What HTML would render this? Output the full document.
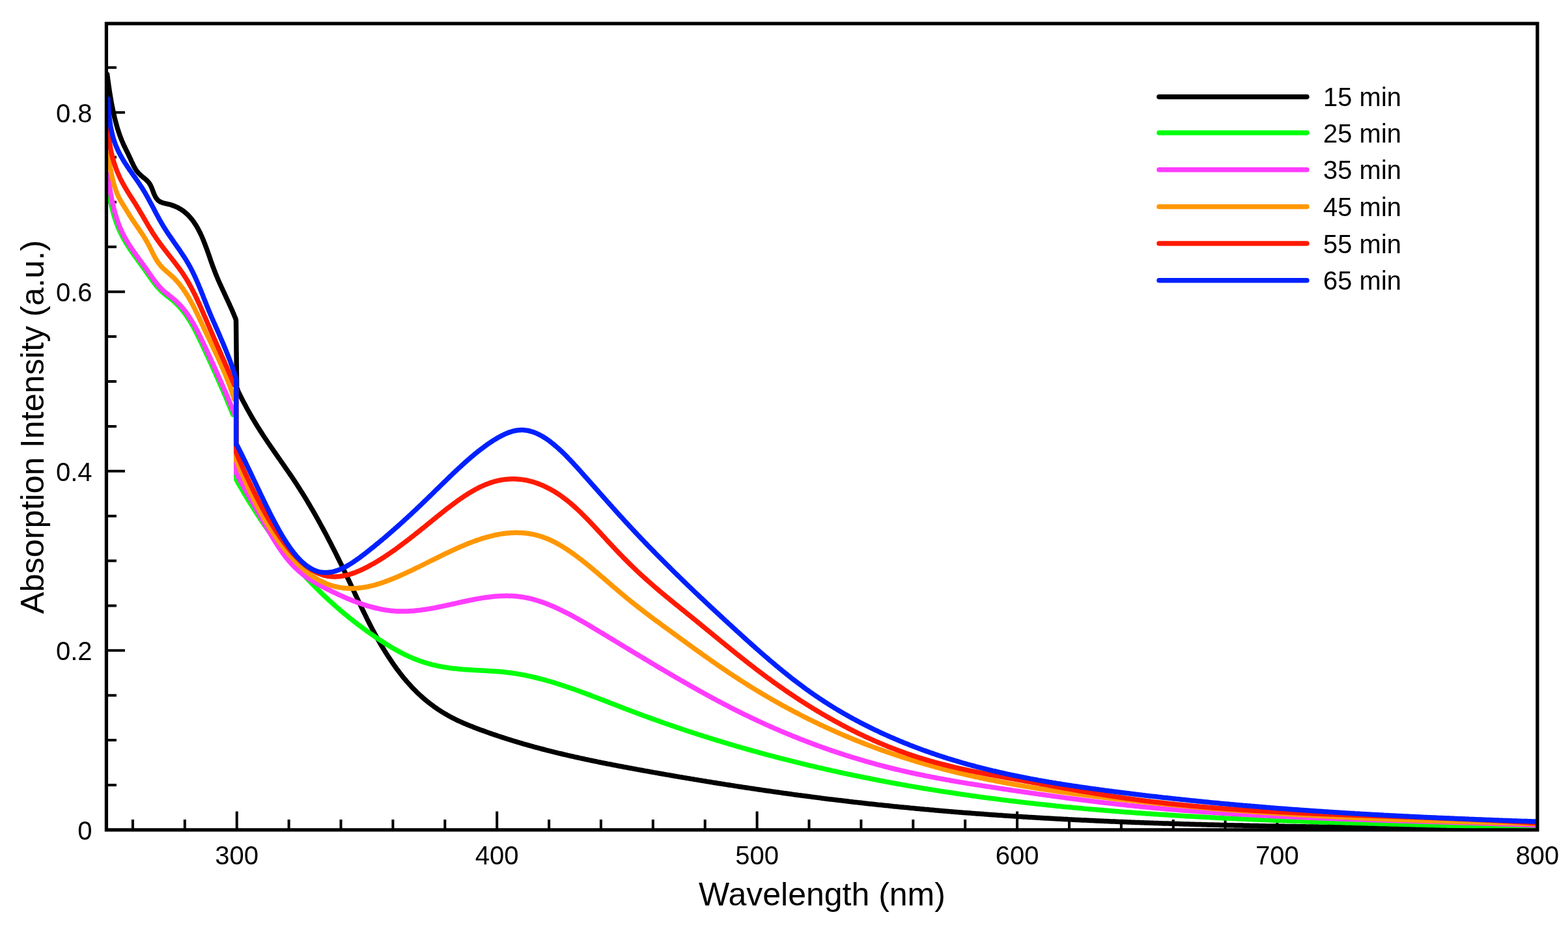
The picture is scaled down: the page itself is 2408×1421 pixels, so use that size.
<!DOCTYPE html>
<html><head><meta charset="utf-8"><title>Absorption spectra</title>
<style>html,body{margin:0;padding:0;background:#fff;}svg{display:block;}</style>
</head><body>
<svg width="2408" height="1421" viewBox="0 0 2408 1421">
<rect width="2408" height="1421" fill="#fff"/>
<defs><clipPath id="pc"><rect x="163.4" y="36.2" width="2197.6" height="1238.7"/></clipPath></defs>
<path d="M203.9 1274.9V1258.9 M283.8 1274.9V1258.9 M363.7 1274.9V1246.4 M443.6 1274.9V1258.9 M523.5 1274.9V1258.9 M603.4 1274.9V1258.9 M683.3 1274.9V1258.9 M763.2 1274.9V1246.4 M843.1 1274.9V1258.9 M922.9 1274.9V1258.9 M1002.8 1274.9V1258.9 M1082.7 1274.9V1258.9 M1162.6 1274.9V1246.4 M1242.5 1274.9V1258.9 M1322.4 1274.9V1258.9 M1402.3 1274.9V1258.9 M1482.2 1274.9V1258.9 M1562.1 1274.9V1246.4 M1642.0 1274.9V1258.9 M1721.9 1274.9V1258.9 M1801.8 1274.9V1258.9 M1881.6 1274.9V1258.9 M1961.5 1274.9V1246.4 M2041.4 1274.9V1258.9 M2121.3 1274.9V1258.9 M2201.2 1274.9V1258.9 M2281.1 1274.9V1258.9 M163.4 1206.0H178.9 M163.4 1137.1H178.9 M163.4 1068.2H178.9 M163.4 999.3H191.9 M163.4 930.4H178.9 M163.4 861.5H178.9 M163.4 792.7H178.9 M163.4 723.8H191.9 M163.4 654.9H178.9 M163.4 586.0H178.9 M163.4 517.1H178.9 M163.4 448.2H191.9 M163.4 379.3H178.9 M163.4 310.5H178.9 M163.4 241.6H178.9 M163.4 172.7H191.9 M163.4 103.8H178.9" stroke="#000" stroke-width="4" fill="none"/>
<g clip-path="url(#pc)" fill="none" stroke-width="7.5" stroke-linejoin="round" stroke-linecap="round">
<path d="M164.6 114.3L164.8 116.0 165.0 117.7 165.3 119.4 165.5 121.0 165.7 122.7 166.0 124.4 166.2 126.1 166.4 127.8 166.7 129.4 166.9 131.1 167.1 132.8 167.4 134.4 167.6 136.1 167.9 137.8 168.1 139.4 168.4 141.1 168.6 142.7 168.9 144.4 169.2 146.0 169.4 147.7 169.7 149.3 170.0 150.9 170.3 152.6 170.5 154.2 170.8 155.8 171.1 157.4 171.4 159.1 171.7 160.7 172.0 162.3 172.3 163.9 172.7 165.5 173.0 167.1 173.3 168.6 173.6 170.2 174.0 171.8 174.3 173.4 174.7 174.9 175.0 176.5 175.4 178.0 175.7 179.6 176.1 181.1 176.5 182.7 176.9 184.2 177.3 185.7 177.6 187.2 178.1 188.7 178.5 190.2 178.9 191.7 179.3 193.2 179.7 194.7 180.2 196.2 180.6 197.6 181.1 199.1 181.5 200.5 182.0 202.0 182.5 203.4 183.0 204.9 183.4 206.3 183.9 207.7 184.5 209.1 185.0 210.5 185.5 211.9 186.0 213.2 186.6 214.6 187.1 216.0 187.7 217.3 188.3 218.7 188.8 220.0 189.4 221.3 190.0 222.6 190.6 223.9 191.2 225.2 191.9 226.5 192.5 227.8 193.1 229.1 193.7 230.4 194.4 231.7 195.0 232.9 195.6 234.2 196.3 235.5 196.9 236.8 197.5 238.1 198.1 239.4 198.7 240.7 199.4 242.0 200.0 243.3 200.6 244.6 201.2 245.9 201.7 247.2 202.3 248.5 202.9 249.8 203.6 251.1 204.2 252.4 204.8 253.7 205.4 255.0 206.1 256.2 206.8 257.5 207.5 258.7 208.2 259.9 208.9 261.0 209.7 262.2 210.5 263.3 211.4 264.3 212.2 265.4 213.1 266.4 214.1 267.4 215.1 268.3 216.1 269.2 217.1 270.1 218.1 270.9 219.2 271.8 220.2 272.7 221.3 273.5 222.3 274.4 223.4 275.3 224.4 276.2 225.4 277.1 226.3 278.0 227.2 279.0 228.1 280.1 229.0 281.1 229.7 282.3 230.5 283.4 231.2 284.7 231.8 286.0 232.4 287.3 233.0 288.6 233.5 290.0 234.0 291.3 234.6 292.7 235.1 294.1 235.6 295.5 236.2 296.9 236.7 298.2 237.3 299.5 237.9 300.8 238.6 302.1 239.3 303.3 240.0 304.5 240.8 305.6 241.7 306.6 242.6 307.6 243.7 308.5 244.8 309.3 246.0 310.0 247.3 310.6 248.6 311.1 250.1 311.6 251.6 312.0 253.1 312.4 254.6 312.8 256.2 313.1 257.8 313.5 259.3 313.8 260.8 314.2 262.3 314.6 263.8 315.1 265.2 315.6 266.6 316.1 268.0 316.6 269.4 317.2 270.7 317.8 272.0 318.4 273.3 319.0 274.5 319.7 275.7 320.4 276.9 321.1 278.1 321.8 279.3 322.6 280.4 323.3 281.5 324.1 282.6 325.0 283.6 325.8 284.7 326.7 285.7 327.6 286.7 328.5 287.7 329.4 288.7 330.3 289.6 331.3 290.5 332.3 291.5 333.3 292.4 334.3 293.2 335.3 294.1 336.4 294.9 337.4 295.8 338.5 296.6 339.6 297.4 340.7 298.2 341.8 298.9 343.0 299.7 344.1 300.5 345.3 301.2 346.5 301.9 347.7 302.6 348.9 303.3 350.1 304.0 351.3 304.7 352.6 305.3 353.8 306.0 355.1 306.6 356.3 307.2 357.6 307.9 358.9 308.5 360.2 309.1 361.5 309.7 362.8 310.3 364.2 310.8 365.5 311.4 366.8 312.0 368.2 312.5 369.5 313.1 370.9 313.6 372.3 314.1 373.6 314.7 375.0 315.2 376.4 315.7 377.8 316.2 379.2 316.8 380.6 317.3 382.0 317.8 383.4 318.3 384.8 318.8 386.2 319.3 387.6 319.8 389.0 320.3 390.4 320.8 391.9 321.3 393.3 321.8 394.7 322.3 396.1 322.7 397.5 323.2 398.9 323.7 400.4 324.2 401.8 324.7 403.2 325.2 404.6 325.7 406.0 326.2 407.4 326.7 408.8 327.2 410.2 327.8 411.6 328.3 413.0 328.8 414.4 329.3 415.8 329.9 417.2 330.4 418.5 330.9 419.9 331.5 421.3 332.0 422.6 332.6 424.0 333.2 425.3 333.7 426.7 334.3 428.0 334.9 429.4 335.4 430.7 336.0 432.0 336.6 433.3 337.2 434.7 337.8 436.0 338.4 437.3 339.0 438.6 339.6 439.9 340.2 441.3 340.8 442.6 341.4 443.9 342.0 445.2 342.6 446.5 343.2 447.8 343.8 449.1 344.4 450.4 345.0 451.7 345.6 453.0 346.2 454.3 346.8 455.6 347.4 456.9 348.0 458.2 348.6 459.5 349.2 460.8 349.8 462.1 350.4 463.4 351.1 464.8 351.7 466.1 352.3 467.4 352.8 468.7 353.4 470.0 354.0 471.3 354.6 472.6 355.2 474.0 355.8 475.3 356.4 476.6 357.0 477.9 357.5 479.3 358.1 480.6 358.7 482.0 359.2 483.3 359.8 484.7 360.4 486.0 360.9 487.4 361.5 488.7 362.5 492.0 363.6 595.0 366.0 601.6 368.0 605.7 370.0 609.7 372.0 613.7 374.0 617.5 376.0 621.3 378.0 625.1 380.0 628.7 382.0 632.3 384.0 635.9 386.0 639.3 388.0 642.8 390.0 646.1 392.0 649.5 394.0 652.7 396.0 656.0 398.0 659.1 400.0 662.3 402.0 665.4 404.0 668.5 406.0 671.5 408.0 674.5 410.0 677.5 412.0 680.5 414.0 683.4 416.0 686.3 418.0 689.2 420.0 692.1 422.0 695.0 424.0 697.9 426.0 700.7 428.0 703.6 430.0 706.4 432.0 709.3 434.0 712.2 436.0 715.0 438.0 717.9 440.0 720.8 442.0 723.7 444.0 726.6 446.0 729.5 448.0 732.4 450.0 735.4 452.0 738.4 454.0 741.4 456.0 744.5 458.0 747.6 460.0 750.7 462.0 753.9 464.0 757.1 466.0 760.3 468.0 763.5 470.0 766.8 472.0 770.1 474.0 773.5 476.0 776.9 478.0 780.3 480.0 783.7 482.0 787.2 484.0 790.7 486.0 794.2 488.0 797.8 490.0 801.4 492.0 805.0 494.0 808.7 496.0 812.4 498.0 816.1 500.0 819.8 502.0 823.6 504.0 827.4 506.0 831.3 508.0 835.1 510.0 839.1 512.0 843.0 514.0 846.9 516.0 850.9 518.0 855.0 520.0 859.0 522.0 863.1 524.0 867.2 526.0 871.3 528.0 875.5 530.0 879.7 532.0 883.9 534.0 888.2 536.0 892.4 538.0 896.7 540.0 901.0 542.0 905.2 544.0 909.5 546.0 913.8 548.0 918.0 550.0 922.3 552.0 926.5 554.0 930.7 556.0 934.9 558.0 939.0 560.0 943.1 562.0 947.2 564.0 951.3 566.0 955.2 568.0 959.2 570.0 963.1 572.0 966.9 574.0 970.6 576.0 974.4 578.0 978.0 580.0 981.6 582.0 985.1 584.0 988.6 586.0 992.0 588.0 995.3 590.0 998.6 592.0 1001.9 594.0 1005.0 596.0 1008.2 598.0 1011.2 600.0 1014.2 602.0 1017.2 604.0 1020.1 606.0 1022.9 608.0 1025.7 610.0 1028.4 612.0 1031.1 614.0 1033.7 616.0 1036.3 618.0 1038.8 620.0 1041.3 622.0 1043.7 624.0 1046.1 626.0 1048.4 628.0 1050.6 630.0 1052.8 632.0 1055.0 634.0 1057.1 636.0 1059.2 638.0 1061.2 640.0 1063.2 642.0 1065.1 644.0 1067.0 646.0 1068.8 648.0 1070.6 650.0 1072.4 652.0 1074.1 654.0 1075.8 656.0 1077.4 658.0 1079.0 660.0 1080.6 662.0 1082.1 664.0 1083.6 666.0 1085.1 668.0 1086.5 670.0 1087.9 672.0 1089.3 674.0 1090.6 676.0 1091.9 678.0 1093.2 680.0 1094.4 682.0 1095.6 684.0 1096.8 686.0 1097.9 688.0 1099.1 690.0 1100.2 692.0 1101.3 694.0 1102.3 696.0 1103.3 698.0 1104.4 700.0 1105.3 702.0 1106.3 704.0 1107.3 706.0 1108.2 708.0 1109.1 710.0 1110.0 712.0 1110.9 714.0 1111.7 716.0 1112.6 718.0 1113.4 720.0 1114.2 722.0 1115.1 724.0 1115.8 726.0 1116.6 728.0 1117.4 730.0 1118.2 732.0 1118.9 734.0 1119.7 736.0 1120.4 738.0 1121.2 740.0 1121.9 742.0 1122.6 744.0 1123.3 746.0 1124.1 748.0 1124.8 750.0 1125.5 752.0 1126.2 754.0 1126.9 756.0 1127.6 758.0 1128.3 760.0 1128.9 762.0 1129.6 764.0 1130.3 766.0 1131.0 768.0 1131.6 770.0 1132.3 772.0 1132.9 774.0 1133.6 776.0 1134.2 778.0 1134.9 780.0 1135.5 782.0 1136.1 784.0 1136.7 786.0 1137.4 788.0 1138.0 790.0 1138.6 792.0 1139.2 794.0 1139.8 796.0 1140.4 798.0 1141.0 800.0 1141.6 802.0 1142.2 804.0 1142.8 806.0 1143.3 808.0 1143.9 810.0 1144.5 812.0 1145.0 814.0 1145.6 816.0 1146.2 818.0 1146.7 820.0 1147.3 822.0 1147.8 824.0 1148.4 826.0 1148.9 828.0 1149.4 830.0 1150.0 832.0 1150.5 834.0 1151.0 836.0 1151.5 838.0 1152.1 840.0 1152.6 842.0 1153.1 844.0 1153.6 846.0 1154.1 848.0 1154.6 850.0 1155.1 852.0 1155.6 854.0 1156.1 856.0 1156.6 858.0 1157.1 860.0 1157.5 862.0 1158.0 864.0 1158.5 866.0 1159.0 868.0 1159.4 870.0 1159.9 872.0 1160.4 874.0 1160.8 876.0 1161.3 878.0 1161.7 880.0 1162.2 882.0 1162.7 884.0 1163.1 886.0 1163.5 888.0 1164.0 890.0 1164.4 892.0 1164.9 894.0 1165.3 896.0 1165.7 898.0 1166.2 900.0 1166.6 902.0 1167.0 904.0 1167.4 906.0 1167.9 908.0 1168.3 910.0 1168.7 912.0 1169.1 914.0 1169.5 916.0 1169.9 918.0 1170.4 920.0 1170.8 922.0 1171.2 924.0 1171.6 926.0 1172.0 928.0 1172.4 930.0 1172.8 932.0 1173.2 934.0 1173.6 936.0 1173.9 938.0 1174.3 940.0 1174.7 942.0 1175.1 944.0 1175.5 946.0 1175.9 948.0 1176.3 950.0 1176.7 952.0 1177.0 954.0 1177.4 956.0 1177.8 958.0 1178.2 960.0 1178.5 962.0 1178.9 964.0 1179.3 966.0 1179.7 968.0 1180.0 970.0 1180.4 972.0 1180.8 974.0 1181.1 976.0 1181.5 978.0 1181.9 980.0 1182.2 982.0 1182.6 984.0 1183.0 986.0 1183.3 988.0 1183.7 990.0 1184.1 992.0 1184.4 994.0 1184.8 996.0 1185.1 998.0 1185.5 1000.0 1185.9 1002.0 1186.2 1004.0 1186.6 1006.0 1186.9 1008.0 1187.3 1010.0 1187.6 1012.0 1188.0 1014.0 1188.3 1016.0 1188.7 1018.0 1189.0 1020.0 1189.4 1022.0 1189.7 1024.0 1190.1 1026.0 1190.4 1028.0 1190.8 1030.0 1191.1 1032.0 1191.5 1034.0 1191.8 1036.0 1192.2 1038.0 1192.5 1040.0 1192.9 1042.0 1193.2 1044.0 1193.6 1046.0 1193.9 1048.0 1194.2 1050.0 1194.6 1052.0 1194.9 1054.0 1195.3 1056.0 1195.6 1058.0 1195.9 1060.0 1196.3 1062.0 1196.6 1064.0 1196.9 1066.0 1197.3 1068.0 1197.6 1070.0 1197.9 1072.0 1198.3 1074.0 1198.6 1076.0 1198.9 1078.0 1199.3 1080.0 1199.6 1082.0 1199.9 1084.0 1200.2 1086.0 1200.6 1088.0 1200.9 1090.0 1201.2 1092.0 1201.5 1094.0 1201.9 1096.0 1202.2 1098.0 1202.5 1100.0 1202.8 1102.0 1203.2 1104.0 1203.5 1106.0 1203.8 1108.0 1204.1 1110.0 1204.4 1112.0 1204.8 1114.0 1205.1 1116.0 1205.4 1118.0 1205.7 1120.0 1206.0 1122.0 1206.3 1124.0 1206.6 1126.0 1206.9 1128.0 1207.3 1130.0 1207.6 1132.0 1207.9 1134.0 1208.2 1136.0 1208.5 1138.0 1208.8 1140.0 1209.1 1142.0 1209.4 1144.0 1209.7 1146.0 1210.0 1148.0 1210.3 1150.0 1210.6 1152.0 1210.9 1154.0 1211.2 1156.0 1211.5 1158.0 1211.8 1160.0 1212.1 1162.0 1212.4 1164.0 1212.7 1166.0 1213.0 1168.0 1213.3 1170.0 1213.6 1172.0 1213.9 1174.0 1214.2 1176.0 1214.5 1178.0 1214.8 1180.0 1215.0 1182.0 1215.3 1184.0 1215.6 1186.0 1215.9 1188.0 1216.2 1190.0 1216.5 1192.0 1216.8 1194.0 1217.0 1196.0 1217.3 1198.0 1217.6 1200.0 1217.9 1202.0 1218.2 1204.0 1218.5 1206.0 1218.7 1208.0 1219.0 1210.0 1219.3 1212.0 1219.6 1214.0 1219.8 1216.0 1220.1 1218.0 1220.4 1220.0 1220.7 1222.0 1220.9 1224.0 1221.2 1226.0 1221.5 1228.0 1221.7 1230.0 1222.0 1232.0 1222.3 1234.0 1222.5 1236.0 1222.8 1238.0 1223.1 1240.0 1223.3 1242.0 1223.6 1244.0 1223.8 1246.0 1224.1 1248.0 1224.4 1250.0 1224.6 1252.0 1224.9 1254.0 1225.1 1256.0 1225.4 1258.0 1225.6 1260.0 1225.9 1262.0 1226.2 1264.0 1226.4 1266.0 1226.7 1268.0 1226.9 1270.0 1227.2 1272.0 1227.4 1274.0 1227.7 1276.0 1227.9 1278.0 1228.1 1280.0 1228.4 1282.0 1228.6 1284.0 1228.9 1286.0 1229.1 1288.0 1229.4 1290.0 1229.6 1292.0 1229.8 1294.0 1230.1 1296.0 1230.3 1298.0 1230.6 1300.0 1230.8 1302.0 1231.0 1304.0 1231.3 1306.0 1231.5 1308.0 1231.7 1310.0 1232.0 1312.0 1232.2 1314.0 1232.4 1316.0 1232.6 1318.0 1232.9 1320.0 1233.1 1322.0 1233.3 1324.0 1233.5 1326.0 1233.8 1328.0 1234.0 1330.0 1234.2 1332.0 1234.4 1334.0 1234.7 1336.0 1234.9 1338.0 1235.1 1340.0 1235.3 1342.0 1235.5 1344.0 1235.7 1346.0 1235.9 1348.0 1236.2 1350.0 1236.4 1352.0 1236.6 1354.0 1236.8 1356.0 1237.0 1358.0 1237.2 1360.0 1237.4 1362.0 1237.6 1364.0 1237.8 1366.0 1238.0 1368.0 1238.2 1370.0 1238.4 1372.0 1238.7 1374.0 1238.9 1376.0 1239.1 1378.0 1239.3 1380.0 1239.5 1382.0 1239.7 1384.0 1239.9 1386.0 1240.0 1388.0 1240.2 1390.0 1240.4 1392.0 1240.6 1394.0 1240.8 1396.0 1241.0 1398.0 1241.2 1400.0 1241.4 1402.0 1241.6 1404.0 1241.8 1406.0 1242.0 1408.0 1242.2 1410.0 1242.3 1412.0 1242.5 1414.0 1242.7 1416.0 1242.9 1418.0 1243.1 1420.0 1243.3 1422.0 1243.4 1424.0 1243.6 1426.0 1243.8 1428.0 1244.0 1430.0 1244.2 1432.0 1244.3 1434.0 1244.5 1436.0 1244.7 1438.0 1244.9 1440.0 1245.0 1442.0 1245.2 1444.0 1245.4 1446.0 1245.6 1448.0 1245.7 1450.0 1245.9 1452.0 1246.1 1454.0 1246.2 1456.0 1246.4 1458.0 1246.6 1460.0 1246.7 1462.0 1246.9 1464.0 1247.1 1466.0 1247.2 1468.0 1247.4 1470.0 1247.6 1472.0 1247.7 1474.0 1247.9 1476.0 1248.0 1478.0 1248.2 1480.0 1248.4 1482.0 1248.5 1484.0 1248.7 1486.0 1248.8 1488.0 1249.0 1490.0 1249.1 1492.0 1249.3 1494.0 1249.4 1496.0 1249.6 1498.0 1249.7 1500.0 1249.9 1502.0 1250.0 1504.0 1250.2 1506.0 1250.3 1508.0 1250.5 1510.0 1250.6 1512.0 1250.8 1514.0 1250.9 1516.0 1251.1 1518.0 1251.2 1520.0 1251.4 1522.0 1251.5 1524.0 1251.7 1526.0 1251.8 1528.0 1251.9 1530.0 1252.1 1532.0 1252.2 1534.0 1252.4 1536.0 1252.5 1538.0 1252.6 1540.0 1252.8 1542.0 1252.9 1544.0 1253.0 1546.0 1253.2 1548.0 1253.3 1550.0 1253.4 1552.0 1253.6 1554.0 1253.7 1556.0 1253.8 1558.0 1254.0 1560.0 1254.1 1562.0 1254.2 1564.0 1254.4 1566.0 1254.5 1568.0 1254.6 1570.0 1254.7 1572.0 1254.9 1574.0 1255.0 1576.0 1255.1 1578.0 1255.2 1580.0 1255.4 1582.0 1255.5 1584.0 1255.6 1586.0 1255.7 1588.0 1255.8 1590.0 1256.0 1592.0 1256.1 1594.0 1256.2 1596.0 1256.3 1598.0 1256.4 1600.0 1256.5 1602.0 1256.7 1604.0 1256.8 1606.0 1256.9 1608.0 1257.0 1610.0 1257.1 1612.0 1257.2 1614.0 1257.3 1616.0 1257.5 1618.0 1257.6 1620.0 1257.7 1622.0 1257.8 1624.0 1257.9 1626.0 1258.0 1628.0 1258.1 1630.0 1258.2 1632.0 1258.3 1634.0 1258.4 1636.0 1258.5 1638.0 1258.6 1640.0 1258.7 1642.0 1258.9 1644.0 1259.0 1646.0 1259.1 1648.0 1259.2 1650.0 1259.3 1652.0 1259.4 1654.0 1259.5 1656.0 1259.6 1658.0 1259.7 1660.0 1259.8 1662.0 1259.9 1664.0 1260.0 1666.0 1260.0 1668.0 1260.1 1670.0 1260.2 1672.0 1260.3 1674.0 1260.4 1676.0 1260.5 1678.0 1260.6 1680.0 1260.7 1682.0 1260.8 1684.0 1260.9 1686.0 1261.0 1688.0 1261.1 1690.0 1261.2 1692.0 1261.3 1694.0 1261.3 1696.0 1261.4 1698.0 1261.5 1700.0 1261.6 1702.0 1261.7 1704.0 1261.8 1706.0 1261.9 1708.0 1261.9 1710.0 1262.0 1712.0 1262.1 1714.0 1262.2 1716.0 1262.3 1718.0 1262.4 1720.0 1262.4 1722.0 1262.5 1724.0 1262.6 1726.0 1262.7 1728.0 1262.8 1730.0 1262.8 1732.0 1262.9 1734.0 1263.0 1736.0 1263.1 1738.0 1263.2 1740.0 1263.2 1742.0 1263.3 1744.0 1263.4 1746.0 1263.5 1748.0 1263.5 1750.0 1263.6 1752.0 1263.7 1754.0 1263.8 1756.0 1263.8 1758.0 1263.9 1760.0 1264.0 1762.0 1264.1 1764.0 1264.1 1766.0 1264.2 1768.0 1264.3 1770.0 1264.3 1772.0 1264.4 1774.0 1264.5 1776.0 1264.5 1778.0 1264.6 1780.0 1264.7 1782.0 1264.7 1784.0 1264.8 1786.0 1264.9 1788.0 1264.9 1790.0 1265.0 1792.0 1265.1 1794.0 1265.1 1796.0 1265.2 1798.0 1265.3 1800.0 1265.3 1802.0 1265.4 1804.0 1265.4 1806.0 1265.5 1808.0 1265.6 1810.0 1265.6 1812.0 1265.7 1814.0 1265.8 1816.0 1265.8 1818.0 1265.9 1820.0 1265.9 1822.0 1266.0 1824.0 1266.0 1826.0 1266.1 1828.0 1266.2 1830.0 1266.2 1832.0 1266.3 1834.0 1266.3 1836.0 1266.4 1838.0 1266.4 1840.0 1266.5 1842.0 1266.6 1844.0 1266.6 1846.0 1266.7 1848.0 1266.7 1850.0 1266.8 1852.0 1266.8 1854.0 1266.9 1856.0 1266.9 1858.0 1267.0 1860.0 1267.0 1862.0 1267.1 1864.0 1267.1 1866.0 1267.2 1868.0 1267.2 1870.0 1267.3 1872.0 1267.3 1874.0 1267.4 1876.0 1267.4 1878.0 1267.5 1880.0 1267.5 1882.0 1267.6 1884.0 1267.6 1886.0 1267.7 1888.0 1267.7 1890.0 1267.7 1892.0 1267.8 1894.0 1267.8 1896.0 1267.9 1898.0 1267.9 1900.0 1268.0 1902.0 1268.0 1904.0 1268.1 1906.0 1268.1 1908.0 1268.1 1910.0 1268.2 1912.0 1268.2 1914.0 1268.3 1916.0 1268.3 1918.0 1268.3 1920.0 1268.4 1922.0 1268.4 1924.0 1268.5 1926.0 1268.5 1928.0 1268.5 1930.0 1268.6 1932.0 1268.6 1934.0 1268.7 1936.0 1268.7 1938.0 1268.7 1940.0 1268.8 1942.0 1268.8 1944.0 1268.9 1946.0 1268.9 1948.0 1268.9 1950.0 1269.0 1952.0 1269.0 1954.0 1269.0 1956.0 1269.1 1958.0 1269.1 1960.0 1269.1 1962.0 1269.2 1964.0 1269.2 1966.0 1269.2 1968.0 1269.3 1970.0 1269.3 1972.0 1269.3 1974.0 1269.4 1976.0 1269.4 1978.0 1269.4 1980.0 1269.5 1982.0 1269.5 1984.0 1269.5 1986.0 1269.6 1988.0 1269.6 1990.0 1269.6 1992.0 1269.7 1994.0 1269.7 1996.0 1269.7 1998.0 1269.8 2000.0 1269.8 2002.0 1269.8 2004.0 1269.8 2006.0 1269.9 2008.0 1269.9 2010.0 1269.9 2012.0 1270.0 2014.0 1270.0 2016.0 1270.0 2018.0 1270.0 2020.0 1270.1 2022.0 1270.1 2024.0 1270.1 2026.0 1270.2 2028.0 1270.2 2030.0 1270.2 2032.0 1270.2 2034.0 1270.3 2036.0 1270.3 2038.0 1270.3 2040.0 1270.3 2042.0 1270.4 2044.0 1270.4 2046.0 1270.4 2048.0 1270.4 2050.0 1270.5 2052.0 1270.5 2054.0 1270.5 2056.0 1270.5 2058.0 1270.6 2060.0 1270.6 2062.0 1270.6 2064.0 1270.6 2066.0 1270.7 2068.0 1270.7 2070.0 1270.7 2072.0 1270.7 2074.0 1270.8 2076.0 1270.8 2078.0 1270.8 2080.0 1270.8 2082.0 1270.9 2084.0 1270.9 2086.0 1270.9 2088.0 1270.9 2090.0 1270.9 2092.0 1271.0 2094.0 1271.0 2096.0 1271.0 2098.0 1271.0 2100.0 1271.0 2102.0 1271.1 2104.0 1271.1 2106.0 1271.1 2108.0 1271.1 2110.0 1271.2 2112.0 1271.2 2114.0 1271.2 2116.0 1271.2 2118.0 1271.2 2120.0 1271.3 2122.0 1271.3 2124.0 1271.3 2126.0 1271.3 2128.0 1271.3 2130.0 1271.4 2132.0 1271.4 2134.0 1271.4 2136.0 1271.4 2138.0 1271.4 2140.0 1271.5 2142.0 1271.5 2144.0 1271.5 2146.0 1271.5 2148.0 1271.5 2150.0 1271.5 2152.0 1271.6 2154.0 1271.6 2156.0 1271.6 2158.0 1271.6 2160.0 1271.6 2162.0 1271.7 2164.0 1271.7 2166.0 1271.7 2168.0 1271.7 2170.0 1271.7 2172.0 1271.7 2174.0 1271.8 2176.0 1271.8 2178.0 1271.8 2180.0 1271.8 2182.0 1271.8 2184.0 1271.9 2186.0 1271.9 2188.0 1271.9 2190.0 1271.9 2192.0 1271.9 2194.0 1271.9 2196.0 1272.0 2198.0 1272.0 2200.0 1272.0 2202.0 1272.0 2204.0 1272.0 2206.0 1272.1 2208.0 1272.1 2210.0 1272.1 2212.0 1272.1 2214.0 1272.1 2216.0 1272.1 2218.0 1272.2 2220.0 1272.2 2222.0 1272.2 2224.0 1272.2 2226.0 1272.2 2228.0 1272.2 2230.0 1272.3 2232.0 1272.3 2234.0 1272.3 2236.0 1272.3 2238.0 1272.3 2240.0 1272.4 2242.0 1272.4 2244.0 1272.4 2246.0 1272.4 2248.0 1272.4 2250.0 1272.4 2252.0 1272.5 2254.0 1272.5 2256.0 1272.5 2258.0 1272.5 2260.0 1272.5 2262.0 1272.5 2264.0 1272.6 2266.0 1272.6 2268.0 1272.6 2270.0 1272.6 2272.0 1272.6 2274.0 1272.7 2276.0 1272.7 2278.0 1272.7 2280.0 1272.7 2282.0 1272.7 2284.0 1272.8 2286.0 1272.8 2288.0 1272.8 2290.0 1272.8 2292.0 1272.8 2294.0 1272.8 2296.0 1272.9 2298.0 1272.9 2300.0 1272.9 2302.0 1272.9 2304.0 1272.9 2306.0 1273.0 2308.0 1273.0 2310.0 1273.0 2312.0 1273.0 2314.0 1273.0 2316.0 1273.1 2318.0 1273.1 2320.0 1273.1 2322.0 1273.1 2324.0 1273.1 2326.0 1273.2 2328.0 1273.2 2330.0 1273.2 2332.0 1273.2 2334.0 1273.2 2336.0 1273.3 2338.0 1273.3 2340.0 1273.3 2342.0 1273.3 2344.0 1273.4 2346.0 1273.4 2348.0 1273.4 2350.0 1273.4 2352.0 1273.4 2354.0 1273.5 2356.0 1273.5 2358.0 1273.5 2360.0 1273.5 2361.0 1273.5" stroke="#000000"/>
<path d="M163.2 268.2L163.4 270.3 163.7 272.4 163.9 274.5 164.2 276.6 164.5 278.7 164.7 280.8 165.0 282.8 165.3 284.9 165.6 287.0 165.9 289.0 166.3 291.1 166.6 293.1 166.9 295.1 167.3 297.2 167.6 299.2 168.0 301.2 168.4 303.2 168.8 305.2 169.2 307.1 169.6 309.1 170.0 311.1 170.4 313.0 170.8 314.9 171.3 316.9 171.7 318.8 172.2 320.7 172.7 322.6 173.2 324.5 173.7 326.3 174.2 328.2 174.7 330.0 175.3 331.9 175.9 333.7 176.4 335.5 177.0 337.3 177.6 339.1 178.2 340.9 178.8 342.6 179.5 344.4 180.1 346.1 180.8 347.8 181.5 349.5 182.2 351.2 182.9 352.9 183.7 354.5 184.4 356.2 185.2 357.8 186.0 359.4 186.8 361.0 187.6 362.6 188.4 364.2 189.2 365.7 190.1 367.2 190.9 368.8 191.8 370.3 192.7 371.8 193.6 373.3 194.5 374.8 195.4 376.2 196.3 377.7 197.3 379.1 198.2 380.6 199.1 382.0 200.1 383.4 201.0 384.8 202.0 386.2 203.0 387.6 204.0 389.0 204.9 390.4 205.9 391.8 206.9 393.2 207.9 394.5 208.9 395.9 209.9 397.3 210.9 398.7 211.9 400.0 212.8 401.4 213.8 402.7 214.8 404.1 215.8 405.5 216.8 406.8 217.8 408.2 218.8 409.5 219.8 410.9 220.7 412.3 221.7 413.6 222.7 415.0 223.6 416.4 224.6 417.8 225.6 419.2 226.5 420.5 227.5 421.9 228.5 423.3 229.4 424.7 230.4 426.1 231.4 427.5 232.4 428.9 233.4 430.3 234.4 431.6 235.4 433.0 236.4 434.4 237.5 435.7 238.5 437.0 239.6 438.4 240.7 439.7 241.8 441.0 243.0 442.2 244.1 443.5 245.3 444.7 246.5 446.0 247.7 447.2 249.0 448.3 250.3 449.5 251.6 450.6 252.9 451.7 254.2 452.8 255.5 453.8 256.8 454.9 258.2 455.9 259.5 456.9 260.8 458.0 262.1 459.0 263.4 460.0 264.7 461.1 265.9 462.1 267.2 463.2 268.4 464.3 269.6 465.4 270.7 466.5 271.9 467.6 273.0 468.8 274.2 469.9 275.3 471.1 276.4 472.3 277.4 473.6 278.5 474.8 279.5 476.1 280.6 477.4 281.6 478.6 282.6 479.9 283.6 481.3 284.6 482.6 285.5 484.0 286.5 485.3 287.4 486.7 288.3 488.1 289.2 489.5 290.1 490.9 291.0 492.3 291.9 493.8 292.8 495.2 293.7 496.7 294.5 498.2 295.4 499.6 296.2 501.1 297.0 502.6 297.8 504.1 298.7 505.7 299.5 507.2 300.3 508.7 301.1 510.3 301.9 511.8 302.6 513.4 303.4 514.9 304.2 516.5 305.0 518.1 305.7 519.6 306.5 521.2 307.3 522.8 308.0 524.4 308.8 526.0 309.5 527.6 310.3 529.2 311.0 530.8 311.8 532.4 312.5 534.0 313.3 535.6 314.0 537.2 314.8 538.8 315.5 540.4 316.3 542.0 317.0 543.6 317.7 545.2 318.5 546.8 319.2 548.4 320.0 550.0 320.7 551.6 321.5 553.3 322.2 554.9 322.9 556.5 323.7 558.1 324.4 559.7 325.1 561.3 325.9 562.9 326.6 564.6 327.3 566.2 328.1 567.8 328.8 569.4 329.5 571.0 330.3 572.7 331.0 574.3 331.7 575.9 332.4 577.5 333.2 579.2 333.9 580.8 334.6 582.4 335.3 584.0 336.0 585.7 336.8 587.3 337.5 588.9 338.2 590.6 338.9 592.2 339.6 593.9 340.3 595.5 341.0 597.1 341.7 598.8 342.5 600.4 343.2 602.1 343.9 603.7 344.6 605.4 345.3 607.0 346.0 608.6 346.7 610.3 347.4 611.9 348.1 613.6 348.8 615.3 349.5 616.9 350.1 618.6 350.8 620.2 351.5 621.9 352.2 623.6 352.9 625.2 353.6 626.9 354.3 628.6 354.9 630.2 355.6 631.9 356.3 633.6 357.0 635.2 357.6 636.9 362.7 634.0 362.7 728.0 362.8 736.8 364.8 740.4 366.8 743.9 368.8 747.3 370.8 750.7 372.8 754.1 374.8 757.5 376.8 760.8 378.8 764.2 380.8 767.4 382.8 770.7 384.8 773.9 386.8 777.1 388.8 780.3 390.8 783.4 392.8 786.5 394.8 789.6 396.8 792.6 398.8 795.7 400.8 798.7 402.8 801.6 404.8 804.6 406.8 807.5 408.8 810.4 410.8 813.2 412.8 816.1 414.8 818.9 416.8 821.7 418.8 824.4 420.8 827.1 422.8 829.9 424.8 832.5 426.8 835.2 428.8 837.8 430.8 840.4 432.8 843.0 434.8 845.6 436.8 848.1 438.8 850.6 440.8 853.1 442.8 855.6 444.8 858.0 446.8 860.5 448.8 862.9 450.8 865.2 452.8 867.6 454.8 869.9 456.8 872.2 458.8 874.5 460.8 876.8 462.8 879.0 464.8 881.3 466.8 883.5 468.8 885.7 470.8 887.8 472.8 890.0 474.8 892.1 476.8 894.2 478.8 896.3 480.8 898.3 482.8 900.4 484.8 902.4 486.8 904.4 488.8 906.4 490.8 908.4 492.8 910.3 494.8 912.3 496.8 914.2 498.8 916.1 500.8 918.0 502.8 919.8 504.8 921.7 506.8 923.5 508.8 925.3 510.8 927.1 512.8 928.9 514.8 930.7 516.8 932.5 518.8 934.2 520.8 935.9 522.8 937.6 524.8 939.3 526.8 941.0 528.8 942.7 530.8 944.3 532.8 945.9 534.8 947.6 536.8 949.2 538.8 950.8 540.8 952.3 542.8 953.9 544.8 955.5 546.8 957.0 548.8 958.5 550.8 960.1 552.8 961.6 554.8 963.1 556.8 964.5 558.8 966.0 560.8 967.5 562.8 968.9 564.8 970.4 566.8 971.8 568.8 973.2 570.8 974.6 572.8 976.0 574.8 977.4 576.8 978.8 578.8 980.1 580.8 981.5 582.8 982.8 584.8 984.1 586.8 985.4 588.8 986.7 590.8 988.0 592.8 989.3 594.8 990.5 596.8 991.7 598.8 993.0 600.8 994.2 602.8 995.3 604.8 996.5 606.8 997.6 608.8 998.8 610.8 999.9 612.8 1000.9 614.8 1002.0 616.8 1003.1 618.8 1004.1 620.8 1005.1 622.8 1006.1 624.8 1007.0 626.8 1007.9 628.8 1008.8 630.8 1009.7 632.8 1010.6 634.8 1011.4 636.8 1012.2 638.8 1013.0 640.8 1013.8 642.8 1014.5 644.8 1015.3 646.8 1016.0 648.8 1016.6 650.8 1017.3 652.8 1017.9 654.8 1018.5 656.8 1019.1 658.8 1019.7 660.8 1020.2 662.8 1020.8 664.8 1021.3 666.8 1021.7 668.8 1022.2 670.8 1022.7 672.8 1023.1 674.8 1023.5 676.8 1023.9 678.8 1024.3 680.8 1024.6 682.8 1025.0 684.8 1025.3 686.8 1025.6 688.8 1025.9 690.8 1026.2 692.8 1026.4 694.8 1026.7 696.8 1026.9 698.8 1027.1 700.8 1027.3 702.8 1027.5 704.8 1027.7 706.8 1027.9 708.8 1028.1 710.8 1028.3 712.8 1028.4 714.8 1028.6 716.8 1028.7 718.8 1028.8 720.8 1029.0 722.8 1029.1 724.8 1029.2 726.8 1029.3 728.8 1029.4 730.8 1029.6 732.8 1029.7 734.8 1029.8 736.8 1029.9 738.8 1030.0 740.8 1030.1 742.8 1030.2 744.8 1030.3 746.8 1030.4 748.8 1030.5 750.8 1030.7 752.8 1030.8 754.8 1030.9 756.8 1031.0 758.8 1031.2 760.8 1031.3 762.8 1031.5 764.8 1031.6 766.8 1031.8 768.8 1032.0 770.8 1032.1 772.8 1032.3 774.8 1032.5 776.8 1032.7 778.8 1033.0 780.8 1033.2 782.8 1033.4 784.8 1033.7 786.8 1034.0 788.8 1034.3 790.8 1034.6 792.8 1034.9 794.8 1035.2 796.8 1035.6 798.8 1035.9 800.8 1036.3 802.8 1036.6 804.8 1037.0 806.8 1037.4 808.8 1037.8 810.8 1038.3 812.8 1038.7 814.8 1039.1 816.8 1039.6 818.8 1040.0 820.8 1040.5 822.8 1041.0 824.8 1041.5 826.8 1042.0 828.8 1042.5 830.8 1043.0 832.8 1043.6 834.8 1044.1 836.8 1044.6 838.8 1045.2 840.8 1045.8 842.8 1046.3 844.8 1046.9 846.8 1047.5 848.8 1048.1 850.8 1048.7 852.8 1049.3 854.8 1050.0 856.8 1050.6 858.8 1051.2 860.8 1051.9 862.8 1052.5 864.8 1053.2 866.8 1053.8 868.8 1054.5 870.8 1055.2 872.8 1055.9 874.8 1056.5 876.8 1057.2 878.8 1057.9 880.8 1058.6 882.8 1059.3 884.8 1060.0 886.8 1060.8 888.8 1061.5 890.8 1062.2 892.8 1062.9 894.8 1063.7 896.8 1064.4 898.8 1065.1 900.8 1065.9 902.8 1066.6 904.8 1067.4 906.8 1068.1 908.8 1068.9 910.8 1069.7 912.8 1070.4 914.8 1071.2 916.8 1071.9 918.8 1072.7 920.8 1073.5 922.8 1074.2 924.8 1075.0 926.8 1075.8 928.8 1076.6 930.8 1077.3 932.8 1078.1 934.8 1078.9 936.8 1079.7 938.8 1080.4 940.8 1081.2 942.8 1082.0 944.8 1082.8 946.8 1083.6 948.8 1084.3 950.8 1085.1 952.8 1085.9 954.8 1086.6 956.8 1087.4 958.8 1088.2 960.8 1089.0 962.8 1089.7 964.8 1090.5 966.8 1091.2 968.8 1092.0 970.8 1092.8 972.8 1093.5 974.8 1094.3 976.8 1095.0 978.8 1095.8 980.8 1096.5 982.8 1097.3 984.8 1098.0 986.8 1098.7 988.8 1099.5 990.8 1100.2 992.8 1100.9 994.8 1101.7 996.8 1102.4 998.8 1103.1 1000.8 1103.9 1002.8 1104.6 1004.8 1105.3 1006.8 1106.0 1008.8 1106.7 1010.8 1107.4 1012.8 1108.1 1014.8 1108.9 1016.8 1109.6 1018.8 1110.3 1020.8 1111.0 1022.8 1111.7 1024.8 1112.4 1026.8 1113.0 1028.8 1113.7 1030.8 1114.4 1032.8 1115.1 1034.8 1115.8 1036.8 1116.5 1038.8 1117.2 1040.8 1117.8 1042.8 1118.5 1044.8 1119.2 1046.8 1119.9 1048.8 1120.5 1050.8 1121.2 1052.8 1121.9 1054.8 1122.5 1056.8 1123.2 1058.8 1123.9 1060.8 1124.5 1062.8 1125.2 1064.8 1125.8 1066.8 1126.5 1068.8 1127.1 1070.8 1127.8 1072.8 1128.4 1074.8 1129.0 1076.8 1129.7 1078.8 1130.3 1080.8 1131.0 1082.8 1131.6 1084.8 1132.2 1086.8 1132.9 1088.8 1133.5 1090.8 1134.1 1092.8 1134.7 1094.8 1135.4 1096.8 1136.0 1098.8 1136.6 1100.8 1137.2 1102.8 1137.8 1104.8 1138.4 1106.8 1139.0 1108.8 1139.6 1110.8 1140.2 1112.8 1140.8 1114.8 1141.4 1116.8 1142.0 1118.8 1142.6 1120.8 1143.2 1122.8 1143.8 1124.8 1144.4 1126.8 1145.0 1128.8 1145.6 1130.8 1146.2 1132.8 1146.8 1134.8 1147.3 1136.8 1147.9 1138.8 1148.5 1140.8 1149.1 1142.8 1149.6 1144.8 1150.2 1146.8 1150.8 1148.8 1151.3 1150.8 1151.9 1152.8 1152.5 1154.8 1153.0 1156.8 1153.6 1158.8 1154.1 1160.8 1154.7 1162.8 1155.2 1164.8 1155.8 1166.8 1156.3 1168.8 1156.9 1170.8 1157.4 1172.8 1158.0 1174.8 1158.5 1176.8 1159.1 1178.8 1159.6 1180.8 1160.1 1182.8 1160.7 1184.8 1161.2 1186.8 1161.7 1188.8 1162.2 1190.8 1162.8 1192.8 1163.3 1194.8 1163.8 1196.8 1164.3 1198.8 1164.9 1200.8 1165.4 1202.8 1165.9 1204.8 1166.4 1206.8 1166.9 1208.8 1167.4 1210.8 1167.9 1212.8 1168.4 1214.8 1168.9 1216.8 1169.4 1218.8 1169.9 1220.8 1170.4 1222.8 1170.9 1224.8 1171.4 1226.8 1171.9 1228.8 1172.4 1230.8 1172.9 1232.8 1173.4 1234.8 1173.9 1236.8 1174.3 1238.8 1174.8 1240.8 1175.3 1242.8 1175.8 1244.8 1176.3 1246.8 1176.7 1248.8 1177.2 1250.8 1177.7 1252.8 1178.1 1254.8 1178.6 1256.8 1179.1 1258.8 1179.5 1260.8 1180.0 1262.8 1180.4 1264.8 1180.9 1266.8 1181.4 1268.8 1181.8 1270.8 1182.3 1272.8 1182.7 1274.8 1183.2 1276.8 1183.6 1278.8 1184.1 1280.8 1184.5 1282.8 1184.9 1284.8 1185.4 1286.8 1185.8 1288.8 1186.3 1290.8 1186.7 1292.8 1187.1 1294.8 1187.6 1296.8 1188.0 1298.8 1188.4 1300.8 1188.8 1302.8 1189.3 1304.8 1189.7 1306.8 1190.1 1308.8 1190.5 1310.8 1191.0 1312.8 1191.4 1314.8 1191.8 1316.8 1192.2 1318.8 1192.6 1320.8 1193.0 1322.8 1193.4 1324.8 1193.8 1326.8 1194.2 1328.8 1194.6 1330.8 1195.0 1332.8 1195.4 1334.8 1195.8 1336.8 1196.2 1338.8 1196.6 1340.8 1197.0 1342.8 1197.4 1344.8 1197.8 1346.8 1198.2 1348.8 1198.6 1350.8 1199.0 1352.8 1199.4 1354.8 1199.7 1356.8 1200.1 1358.8 1200.5 1360.8 1200.9 1362.8 1201.2 1364.8 1201.6 1366.8 1202.0 1368.8 1202.4 1370.8 1202.7 1372.8 1203.1 1374.8 1203.5 1376.8 1203.8 1378.8 1204.2 1380.8 1204.6 1382.8 1204.9 1384.8 1205.3 1386.8 1205.6 1388.8 1206.0 1390.8 1206.3 1392.8 1206.7 1394.8 1207.1 1396.8 1207.4 1398.8 1207.8 1400.8 1208.1 1402.8 1208.4 1404.8 1208.8 1406.8 1209.1 1408.8 1209.5 1410.8 1209.8 1412.8 1210.1 1414.8 1210.5 1416.8 1210.8 1418.8 1211.2 1420.8 1211.5 1422.8 1211.8 1424.8 1212.1 1426.8 1212.5 1428.8 1212.8 1430.8 1213.1 1432.8 1213.4 1434.8 1213.8 1436.8 1214.1 1438.8 1214.4 1440.8 1214.7 1442.8 1215.0 1444.8 1215.4 1446.8 1215.7 1448.8 1216.0 1450.8 1216.3 1452.8 1216.6 1454.8 1216.9 1456.8 1217.2 1458.8 1217.5 1460.8 1217.8 1462.8 1218.1 1464.8 1218.4 1466.8 1218.7 1468.8 1219.0 1470.8 1219.3 1472.8 1219.6 1474.8 1219.9 1476.8 1220.2 1478.8 1220.5 1480.8 1220.8 1482.8 1221.1 1484.8 1221.4 1486.8 1221.6 1488.8 1221.9 1490.8 1222.2 1492.8 1222.5 1494.8 1222.8 1496.8 1223.1 1498.8 1223.3 1500.8 1223.6 1502.8 1223.9 1504.8 1224.2 1506.8 1224.4 1508.8 1224.7 1510.8 1225.0 1512.8 1225.2 1514.8 1225.5 1516.8 1225.8 1518.8 1226.0 1520.8 1226.3 1522.8 1226.6 1524.8 1226.8 1526.8 1227.1 1528.8 1227.3 1530.8 1227.6 1532.8 1227.9 1534.8 1228.1 1536.8 1228.4 1538.8 1228.6 1540.8 1228.9 1542.8 1229.1 1544.8 1229.4 1546.8 1229.6 1548.8 1229.9 1550.8 1230.1 1552.8 1230.4 1554.8 1230.6 1556.8 1230.8 1558.8 1231.1 1560.8 1231.3 1562.8 1231.6 1564.8 1231.8 1566.8 1232.0 1568.8 1232.3 1570.8 1232.5 1572.8 1232.7 1574.8 1233.0 1576.8 1233.2 1578.8 1233.4 1580.8 1233.6 1582.8 1233.9 1584.8 1234.1 1586.8 1234.3 1588.8 1234.5 1590.8 1234.8 1592.8 1235.0 1594.8 1235.2 1596.8 1235.4 1598.8 1235.6 1600.8 1235.9 1602.8 1236.1 1604.8 1236.3 1606.8 1236.5 1608.8 1236.7 1610.8 1236.9 1612.8 1237.1 1614.8 1237.3 1616.8 1237.5 1618.8 1237.7 1620.8 1238.0 1622.8 1238.2 1624.8 1238.4 1626.8 1238.6 1628.8 1238.8 1630.8 1239.0 1632.8 1239.2 1634.8 1239.4 1636.8 1239.6 1638.8 1239.8 1640.8 1239.9 1642.8 1240.1 1644.8 1240.3 1646.8 1240.5 1648.8 1240.7 1650.8 1240.9 1652.8 1241.1 1654.8 1241.3 1656.8 1241.5 1658.8 1241.6 1660.8 1241.8 1662.8 1242.0 1664.8 1242.2 1666.8 1242.4 1668.8 1242.6 1670.8 1242.7 1672.8 1242.9 1674.8 1243.1 1676.8 1243.3 1678.8 1243.4 1680.8 1243.6 1682.8 1243.8 1684.8 1244.0 1686.8 1244.1 1688.8 1244.3 1690.8 1244.5 1692.8 1244.6 1694.8 1244.8 1696.8 1245.0 1698.8 1245.1 1700.8 1245.3 1702.8 1245.5 1704.8 1245.6 1706.8 1245.8 1708.8 1246.0 1710.8 1246.1 1712.8 1246.3 1714.8 1246.4 1716.8 1246.6 1718.8 1246.8 1720.8 1246.9 1722.8 1247.1 1724.8 1247.2 1726.8 1247.4 1728.8 1247.5 1730.8 1247.7 1732.8 1247.8 1734.8 1248.0 1736.8 1248.1 1738.8 1248.3 1740.8 1248.4 1742.8 1248.6 1744.8 1248.7 1746.8 1248.9 1748.8 1249.0 1750.8 1249.1 1752.8 1249.3 1754.8 1249.4 1756.8 1249.6 1758.8 1249.7 1760.8 1249.9 1762.8 1250.0 1764.8 1250.1 1766.8 1250.3 1768.8 1250.4 1770.8 1250.5 1772.8 1250.7 1774.8 1250.8 1776.8 1250.9 1778.8 1251.1 1780.8 1251.2 1782.8 1251.3 1784.8 1251.5 1786.8 1251.6 1788.8 1251.7 1790.8 1251.8 1792.8 1252.0 1794.8 1252.1 1796.8 1252.2 1798.8 1252.3 1800.8 1252.5 1802.8 1252.6 1804.8 1252.7 1806.8 1252.8 1808.8 1253.0 1810.8 1253.1 1812.8 1253.2 1814.8 1253.3 1816.8 1253.4 1818.8 1253.5 1820.8 1253.7 1822.8 1253.8 1824.8 1253.9 1826.8 1254.0 1828.8 1254.1 1830.8 1254.2 1832.8 1254.3 1834.8 1254.5 1836.8 1254.6 1838.8 1254.7 1840.8 1254.8 1842.8 1254.9 1844.8 1255.0 1846.8 1255.1 1848.8 1255.2 1850.8 1255.3 1852.8 1255.4 1854.8 1255.5 1856.8 1255.6 1858.8 1255.7 1860.8 1255.9 1862.8 1256.0 1864.8 1256.1 1866.8 1256.2 1868.8 1256.3 1870.8 1256.4 1872.8 1256.5 1874.8 1256.6 1876.8 1256.7 1878.8 1256.8 1880.8 1256.9 1882.8 1256.9 1884.8 1257.0 1886.8 1257.1 1888.8 1257.2 1890.8 1257.3 1892.8 1257.4 1894.8 1257.5 1896.8 1257.6 1898.8 1257.7 1900.8 1257.8 1902.8 1257.9 1904.8 1258.0 1906.8 1258.1 1908.8 1258.2 1910.8 1258.2 1912.8 1258.3 1914.8 1258.4 1916.8 1258.5 1918.8 1258.6 1920.8 1258.7 1922.8 1258.8 1924.8 1258.9 1926.8 1258.9 1928.8 1259.0 1930.8 1259.1 1932.8 1259.2 1934.8 1259.3 1936.8 1259.4 1938.8 1259.4 1940.8 1259.5 1942.8 1259.6 1944.8 1259.7 1946.8 1259.8 1948.8 1259.8 1950.8 1259.9 1952.8 1260.0 1954.8 1260.1 1956.8 1260.2 1958.8 1260.2 1960.8 1260.3 1962.8 1260.4 1964.8 1260.5 1966.8 1260.5 1968.8 1260.6 1970.8 1260.7 1972.8 1260.8 1974.8 1260.8 1976.8 1260.9 1978.8 1261.0 1980.8 1261.1 1982.8 1261.1 1984.8 1261.2 1986.8 1261.3 1988.8 1261.3 1990.8 1261.4 1992.8 1261.5 1994.8 1261.6 1996.8 1261.6 1998.8 1261.7 2000.8 1261.8 2002.8 1261.8 2004.8 1261.9 2006.8 1262.0 2008.8 1262.0 2010.8 1262.1 2012.8 1262.2 2014.8 1262.2 2016.8 1262.3 2018.8 1262.4 2020.8 1262.4 2022.8 1262.5 2024.8 1262.6 2026.8 1262.6 2028.8 1262.7 2030.8 1262.8 2032.8 1262.8 2034.8 1262.9 2036.8 1263.0 2038.8 1263.0 2040.8 1263.1 2042.8 1263.1 2044.8 1263.2 2046.8 1263.3 2048.8 1263.3 2050.8 1263.4 2052.8 1263.5 2054.8 1263.5 2056.8 1263.6 2058.8 1263.6 2060.8 1263.7 2062.8 1263.8 2064.8 1263.8 2066.8 1263.9 2068.8 1263.9 2070.8 1264.0 2072.8 1264.1 2074.8 1264.1 2076.8 1264.2 2078.8 1264.2 2080.8 1264.3 2082.8 1264.4 2084.8 1264.4 2086.8 1264.5 2088.8 1264.5 2090.8 1264.6 2092.8 1264.6 2094.8 1264.7 2096.8 1264.8 2098.8 1264.8 2100.8 1264.9 2102.8 1264.9 2104.8 1265.0 2106.8 1265.0 2108.8 1265.1 2110.8 1265.1 2112.8 1265.2 2114.8 1265.3 2116.8 1265.3 2118.8 1265.4 2120.8 1265.4 2122.8 1265.5 2124.8 1265.5 2126.8 1265.6 2128.8 1265.6 2130.8 1265.7 2132.8 1265.8 2134.8 1265.8 2136.8 1265.9 2138.8 1265.9 2140.8 1266.0 2142.8 1266.0 2144.8 1266.1 2146.8 1266.1 2148.8 1266.2 2150.8 1266.2 2152.8 1266.3 2154.8 1266.3 2156.8 1266.4 2158.8 1266.5 2160.8 1266.5 2162.8 1266.6 2164.8 1266.6 2166.8 1266.7 2168.8 1266.7 2170.8 1266.8 2172.8 1266.8 2174.8 1266.9 2176.8 1266.9 2178.8 1267.0 2180.8 1267.0 2182.8 1267.1 2184.8 1267.2 2186.8 1267.2 2188.8 1267.3 2190.8 1267.3 2192.8 1267.4 2194.8 1267.4 2196.8 1267.5 2198.8 1267.5 2200.8 1267.6 2202.8 1267.6 2204.8 1267.7 2206.8 1267.7 2208.8 1267.8 2210.8 1267.8 2212.8 1267.9 2214.8 1268.0 2216.8 1268.0 2218.8 1268.1 2220.8 1268.1 2222.8 1268.2 2224.8 1268.2 2226.8 1268.3 2228.8 1268.3 2230.8 1268.4 2232.8 1268.4 2234.8 1268.5 2236.8 1268.5 2238.8 1268.6 2240.8 1268.7 2242.8 1268.7 2244.8 1268.8 2246.8 1268.8 2248.8 1268.9 2250.8 1268.9 2252.8 1269.0 2254.8 1269.0 2256.8 1269.1 2258.8 1269.2 2260.8 1269.2 2262.8 1269.3 2264.8 1269.3 2266.8 1269.4 2268.8 1269.4 2270.8 1269.5 2272.8 1269.6 2274.8 1269.6 2276.8 1269.7 2278.8 1269.7 2280.8 1269.8 2282.8 1269.8 2284.8 1269.9 2286.8 1270.0 2288.8 1270.0 2290.8 1270.1 2292.8 1270.1 2294.8 1270.2 2296.8 1270.2 2298.8 1270.3 2300.8 1270.4 2302.8 1270.4 2304.8 1270.5 2306.8 1270.5 2308.8 1270.6 2310.8 1270.7 2312.8 1270.7 2314.8 1270.8 2316.8 1270.9 2318.8 1270.9 2320.8 1271.0 2322.8 1271.0 2324.8 1271.1 2326.8 1271.2 2328.8 1271.2 2330.8 1271.3 2332.8 1271.4 2334.8 1271.4 2336.8 1271.5 2338.8 1271.6 2340.8 1271.6 2342.8 1271.7 2344.8 1271.7 2346.8 1271.8 2348.8 1271.9 2350.8 1271.9 2352.8 1272.0 2354.8 1272.1 2356.8 1272.1 2358.8 1272.2 2360.8 1272.3 2361.0 1272.3" stroke="#00ff0a"/>
<path d="M165.7 267.9L166.0 270.0 166.2 272.1 166.5 274.2 166.8 276.2 167.0 278.3 167.3 280.4 167.6 282.5 167.9 284.5 168.2 286.6 168.5 288.6 168.8 290.7 169.2 292.7 169.5 294.7 169.8 296.7 170.2 298.7 170.6 300.7 170.9 302.7 171.3 304.6 171.7 306.6 172.1 308.6 172.5 310.5 172.9 312.4 173.4 314.4 173.8 316.3 174.3 318.2 174.7 320.0 175.2 321.9 175.7 323.8 176.2 325.6 176.7 327.5 177.2 329.3 177.8 331.1 178.3 332.9 178.9 334.7 179.5 336.5 180.1 338.2 180.7 340.0 181.3 341.7 181.9 343.4 182.6 345.2 183.2 346.8 183.9 348.5 184.6 350.2 185.3 351.8 186.0 353.5 186.8 355.1 187.5 356.7 188.3 358.3 189.1 359.8 189.9 361.4 190.7 362.9 191.5 364.5 192.3 366.0 193.2 367.5 194.0 369.0 194.9 370.5 195.8 371.9 196.7 373.4 197.6 374.8 198.5 376.3 199.4 377.7 200.4 379.1 201.3 380.5 202.2 382.0 203.2 383.4 204.2 384.8 205.1 386.1 206.1 387.5 207.1 388.9 208.0 390.3 209.0 391.7 210.0 393.0 211.0 394.4 212.0 395.8 213.0 397.1 214.0 398.5 214.9 399.8 215.9 401.2 216.9 402.6 217.9 403.9 218.9 405.3 219.9 406.6 220.9 408.0 221.9 409.4 222.9 410.8 223.8 412.1 224.8 413.5 225.8 414.9 226.7 416.3 227.7 417.7 228.7 419.1 229.6 420.5 230.6 421.8 231.6 423.2 232.5 424.6 233.5 426.0 234.5 427.4 235.5 428.7 236.5 430.1 237.5 431.4 238.5 432.8 239.5 434.1 240.6 435.4 241.6 436.7 242.7 438.0 243.8 439.3 244.9 440.5 246.0 441.7 247.2 442.9 248.3 444.1 249.5 445.3 250.7 446.4 252.0 447.5 253.2 448.6 254.5 449.7 255.8 450.7 257.1 451.8 258.4 452.8 259.8 453.9 261.1 454.9 262.4 455.9 263.7 457.0 265.0 458.0 266.3 459.1 267.6 460.1 268.9 461.2 270.1 462.3 271.3 463.5 272.5 464.6 273.7 465.8 274.9 467.0 276.1 468.2 277.2 469.4 278.3 470.6 279.4 471.9 280.5 473.1 281.6 474.4 282.6 475.7 283.6 477.0 284.7 478.4 285.7 479.7 286.7 481.1 287.6 482.5 288.6 483.8 289.6 485.2 290.5 486.7 291.4 488.1 292.3 489.5 293.2 491.0 294.1 492.4 295.0 493.9 295.9 495.4 296.8 496.9 297.6 498.4 298.5 499.9 299.3 501.4 300.1 502.9 301.0 504.4 301.8 506.0 302.6 507.5 303.4 509.1 304.2 510.6 305.0 512.2 305.7 513.8 306.5 515.3 307.3 516.9 308.1 518.5 308.8 520.1 309.6 521.7 310.4 523.3 311.1 524.9 311.9 526.5 312.6 528.1 313.4 529.7 314.1 531.3 314.9 532.9 315.6 534.5 316.4 536.1 317.1 537.7 317.9 539.3 318.6 540.9 319.4 542.5 320.1 544.1 320.9 545.7 321.6 547.3 322.3 548.9 323.1 550.6 323.8 552.2 324.6 553.8 325.3 555.4 326.0 557.0 326.8 558.6 327.5 560.2 328.2 561.9 329.0 563.5 329.7 565.1 330.4 566.7 331.2 568.3 331.9 570.0 332.6 571.6 333.4 573.2 334.1 574.8 334.8 576.5 335.5 578.1 336.3 579.7 337.0 581.4 337.7 583.0 338.4 584.6 339.1 586.3 339.9 587.9 340.6 589.5 341.3 591.2 342.0 592.8 342.7 594.5 343.4 596.1 344.1 597.7 344.8 599.4 345.6 601.0 346.3 602.7 347.0 604.3 347.7 606.0 348.4 607.6 349.1 609.3 349.8 610.9 350.5 612.6 351.2 614.3 351.8 615.9 352.5 617.6 353.2 619.2 353.9 620.9 354.6 622.6 355.3 624.2 356.0 625.9 356.7 627.6 357.3 629.2 358.0 630.9 358.7 632.6 359.4 634.3 360.1 635.9 362.7 630.0 362.7 714.0 362.8 726.5 364.8 730.6 366.8 734.5 368.8 738.4 370.8 742.1 372.8 745.8 374.8 749.4 376.8 753.0 378.8 756.5 380.8 759.9 382.8 763.4 384.8 766.9 386.8 770.3 388.8 773.8 390.8 777.3 392.8 780.8 394.8 784.3 396.8 787.8 398.8 791.4 400.8 794.9 402.8 798.4 404.8 802.0 406.8 805.5 408.8 808.9 410.8 812.4 412.8 815.8 414.8 819.2 416.8 822.6 418.8 825.9 420.8 829.2 422.8 832.4 424.8 835.6 426.8 838.7 428.8 841.7 430.8 844.6 432.8 847.5 434.8 850.3 436.8 853.0 438.8 855.7 440.8 858.2 442.8 860.6 444.8 863.0 446.8 865.2 448.8 867.4 450.8 869.5 452.8 871.5 454.8 873.5 456.8 875.3 458.8 877.1 460.8 878.8 462.8 880.5 464.8 882.1 466.8 883.7 468.8 885.2 470.8 886.6 472.8 888.0 474.8 889.3 476.8 890.6 478.8 891.9 480.8 893.1 482.8 894.3 484.8 895.5 486.8 896.6 488.8 897.7 490.8 898.8 492.8 899.9 494.8 901.0 496.8 902.0 498.8 903.0 500.8 904.1 502.8 905.1 504.8 906.1 506.8 907.1 508.8 908.1 510.8 909.1 512.8 910.0 514.8 911.0 516.8 911.9 518.8 912.9 520.8 913.8 522.8 914.7 524.8 915.6 526.8 916.5 528.8 917.4 530.8 918.3 532.8 919.1 534.8 920.0 536.8 920.8 538.8 921.6 540.8 922.4 542.8 923.2 544.8 924.0 546.8 924.7 548.8 925.5 550.8 926.2 552.8 926.9 554.8 927.6 556.8 928.3 558.8 928.9 560.8 929.6 562.8 930.2 564.8 930.8 566.8 931.4 568.8 931.9 570.8 932.5 572.8 933.0 574.8 933.5 576.8 934.0 578.8 934.5 580.8 934.9 582.8 935.4 584.8 935.8 586.8 936.2 588.8 936.5 590.8 936.9 592.8 937.2 594.8 937.5 596.8 937.7 598.8 938.0 600.8 938.2 602.8 938.4 604.8 938.6 606.8 938.7 608.8 938.9 610.8 939.0 612.8 939.0 614.8 939.1 616.8 939.1 618.8 939.1 620.8 939.1 622.8 939.1 624.8 939.0 626.8 938.9 628.8 938.8 630.8 938.7 632.8 938.6 634.8 938.4 636.8 938.2 638.8 938.0 640.8 937.8 642.8 937.6 644.8 937.4 646.8 937.1 648.8 936.8 650.8 936.6 652.8 936.3 654.8 936.0 656.8 935.6 658.8 935.3 660.8 935.0 662.8 934.6 664.8 934.2 666.8 933.9 668.8 933.5 670.8 933.1 672.8 932.7 674.8 932.3 676.8 931.9 678.8 931.5 680.8 931.0 682.8 930.6 684.8 930.2 686.8 929.7 688.8 929.3 690.8 928.9 692.8 928.4 694.8 928.0 696.8 927.5 698.8 927.1 700.8 926.6 702.8 926.2 704.8 925.7 706.8 925.3 708.8 924.8 710.8 924.4 712.8 924.0 714.8 923.5 716.8 923.1 718.8 922.7 720.8 922.3 722.8 921.9 724.8 921.5 726.8 921.1 728.8 920.7 730.8 920.3 732.8 920.0 734.8 919.6 736.8 919.3 738.8 918.9 740.8 918.6 742.8 918.3 744.8 918.0 746.8 917.7 748.8 917.4 750.8 917.2 752.8 916.9 754.8 916.7 756.8 916.5 758.8 916.3 760.8 916.1 762.8 915.9 764.8 915.8 766.8 915.7 768.8 915.6 770.8 915.5 772.8 915.4 774.8 915.4 776.8 915.3 778.8 915.3 780.8 915.4 782.8 915.4 784.8 915.5 786.8 915.6 788.8 915.7 790.8 915.8 792.8 916.0 794.8 916.2 796.8 916.4 798.8 916.7 800.8 917.0 802.8 917.3 804.8 917.6 806.8 918.0 808.8 918.4 810.8 918.8 812.8 919.2 814.8 919.7 816.8 920.2 818.8 920.7 820.8 921.3 822.8 921.9 824.8 922.5 826.8 923.1 828.8 923.7 830.8 924.4 832.8 925.1 834.8 925.8 836.8 926.5 838.8 927.3 840.8 928.1 842.8 928.8 844.8 929.7 846.8 930.5 848.8 931.3 850.8 932.2 852.8 933.1 854.8 934.0 856.8 934.9 858.8 935.9 860.8 936.8 862.8 937.8 864.8 938.8 866.8 939.8 868.8 940.8 870.8 941.8 872.8 942.8 874.8 943.9 876.8 944.9 878.8 946.0 880.8 947.1 882.8 948.2 884.8 949.3 886.8 950.4 888.8 951.5 890.8 952.7 892.8 953.8 894.8 955.0 896.8 956.1 898.8 957.3 900.8 958.4 902.8 959.6 904.8 960.8 906.8 962.0 908.8 963.2 910.8 964.4 912.8 965.6 914.8 966.8 916.8 968.0 918.8 969.2 920.8 970.4 922.8 971.6 924.8 972.8 926.8 974.0 928.8 975.2 930.8 976.4 932.8 977.6 934.8 978.9 936.8 980.1 938.8 981.3 940.8 982.5 942.8 983.7 944.8 984.9 946.8 986.1 948.8 987.3 950.8 988.6 952.8 989.8 954.8 991.0 956.8 992.2 958.8 993.4 960.8 994.6 962.8 995.8 964.8 997.0 966.8 998.3 968.8 999.5 970.8 1000.7 972.8 1001.9 974.8 1003.1 976.8 1004.3 978.8 1005.5 980.8 1006.7 982.8 1007.9 984.8 1009.1 986.8 1010.3 988.8 1011.5 990.8 1012.7 992.8 1013.9 994.8 1015.1 996.8 1016.3 998.8 1017.5 1000.8 1018.7 1002.8 1019.9 1004.8 1021.1 1006.8 1022.3 1008.8 1023.5 1010.8 1024.7 1012.8 1025.9 1014.8 1027.0 1016.8 1028.2 1018.8 1029.4 1020.8 1030.6 1022.8 1031.8 1024.8 1032.9 1026.8 1034.1 1028.8 1035.3 1030.8 1036.5 1032.8 1037.6 1034.8 1038.8 1036.8 1040.0 1038.8 1041.1 1040.8 1042.3 1042.8 1043.4 1044.8 1044.6 1046.8 1045.7 1048.8 1046.9 1050.8 1048.0 1052.8 1049.2 1054.8 1050.3 1056.8 1051.5 1058.8 1052.6 1060.8 1053.7 1062.8 1054.9 1064.8 1056.0 1066.8 1057.1 1068.8 1058.2 1070.8 1059.4 1072.8 1060.5 1074.8 1061.6 1076.8 1062.7 1078.8 1063.8 1080.8 1064.9 1082.8 1066.0 1084.8 1067.1 1086.8 1068.2 1088.8 1069.3 1090.8 1070.4 1092.8 1071.5 1094.8 1072.6 1096.8 1073.6 1098.8 1074.7 1100.8 1075.8 1102.8 1076.8 1104.8 1077.9 1106.8 1079.0 1108.8 1080.0 1110.8 1081.1 1112.8 1082.1 1114.8 1083.2 1116.8 1084.2 1118.8 1085.2 1120.8 1086.3 1122.8 1087.3 1124.8 1088.3 1126.8 1089.3 1128.8 1090.3 1130.8 1091.3 1132.8 1092.3 1134.8 1093.3 1136.8 1094.3 1138.8 1095.3 1140.8 1096.3 1142.8 1097.3 1144.8 1098.3 1146.8 1099.2 1148.8 1100.2 1150.8 1101.2 1152.8 1102.1 1154.8 1103.1 1156.8 1104.0 1158.8 1105.0 1160.8 1105.9 1162.8 1106.9 1164.8 1107.8 1166.8 1108.7 1168.8 1109.6 1170.8 1110.5 1172.8 1111.5 1174.8 1112.4 1176.8 1113.3 1178.8 1114.2 1180.8 1115.1 1182.8 1116.0 1184.8 1116.8 1186.8 1117.7 1188.8 1118.6 1190.8 1119.5 1192.8 1120.3 1194.8 1121.2 1196.8 1122.1 1198.8 1122.9 1200.8 1123.8 1202.8 1124.6 1204.8 1125.5 1206.8 1126.3 1208.8 1127.1 1210.8 1128.0 1212.8 1128.8 1214.8 1129.6 1216.8 1130.4 1218.8 1131.2 1220.8 1132.0 1222.8 1132.8 1224.8 1133.6 1226.8 1134.4 1228.8 1135.2 1230.8 1136.0 1232.8 1136.8 1234.8 1137.6 1236.8 1138.3 1238.8 1139.1 1240.8 1139.9 1242.8 1140.6 1244.8 1141.4 1246.8 1142.1 1248.8 1142.9 1250.8 1143.6 1252.8 1144.4 1254.8 1145.1 1256.8 1145.8 1258.8 1146.5 1260.8 1147.3 1262.8 1148.0 1264.8 1148.7 1266.8 1149.4 1268.8 1150.1 1270.8 1150.8 1272.8 1151.5 1274.8 1152.2 1276.8 1152.9 1278.8 1153.6 1280.8 1154.2 1282.8 1154.9 1284.8 1155.6 1286.8 1156.2 1288.8 1156.9 1290.8 1157.6 1292.8 1158.2 1294.8 1158.9 1296.8 1159.5 1298.8 1160.2 1300.8 1160.8 1302.8 1161.4 1304.8 1162.1 1306.8 1162.7 1308.8 1163.3 1310.8 1163.9 1312.8 1164.5 1314.8 1165.1 1316.8 1165.7 1318.8 1166.3 1320.8 1166.9 1322.8 1167.5 1324.8 1168.1 1326.8 1168.7 1328.8 1169.3 1330.8 1169.8 1332.8 1170.4 1334.8 1171.0 1336.8 1171.5 1338.8 1172.1 1340.8 1172.7 1342.8 1173.2 1344.8 1173.8 1346.8 1174.3 1348.8 1174.8 1350.8 1175.4 1352.8 1175.9 1354.8 1176.4 1356.8 1177.0 1358.8 1177.5 1360.8 1178.0 1362.8 1178.5 1364.8 1179.0 1366.8 1179.5 1368.8 1180.0 1370.8 1180.5 1372.8 1181.0 1374.8 1181.5 1376.8 1182.0 1378.8 1182.4 1380.8 1182.9 1382.8 1183.4 1384.8 1183.9 1386.8 1184.3 1388.8 1184.8 1390.8 1185.2 1392.8 1185.7 1394.8 1186.1 1396.8 1186.6 1398.8 1187.0 1400.8 1187.5 1402.8 1187.9 1404.8 1188.3 1406.8 1188.8 1408.8 1189.2 1410.8 1189.6 1412.8 1190.0 1414.8 1190.4 1416.8 1190.8 1418.8 1191.2 1420.8 1191.6 1422.8 1192.1 1424.8 1192.4 1426.8 1192.8 1428.8 1193.2 1430.8 1193.6 1432.8 1194.0 1434.8 1194.4 1436.8 1194.8 1438.8 1195.2 1440.8 1195.5 1442.8 1195.9 1444.8 1196.3 1446.8 1196.6 1448.8 1197.0 1450.8 1197.4 1452.8 1197.7 1454.8 1198.1 1456.8 1198.4 1458.8 1198.8 1460.8 1199.2 1462.8 1199.5 1464.8 1199.9 1466.8 1200.2 1468.8 1200.5 1470.8 1200.9 1472.8 1201.2 1474.8 1201.6 1476.8 1201.9 1478.8 1202.2 1480.8 1202.6 1482.8 1202.9 1484.8 1203.2 1486.8 1203.6 1488.8 1203.9 1490.8 1204.2 1492.8 1204.5 1494.8 1204.8 1496.8 1205.2 1498.8 1205.5 1500.8 1205.8 1502.8 1206.1 1504.8 1206.4 1506.8 1206.7 1508.8 1207.1 1510.8 1207.4 1512.8 1207.7 1514.8 1208.0 1516.8 1208.3 1518.8 1208.6 1520.8 1208.9 1522.8 1209.2 1524.8 1209.5 1526.8 1209.8 1528.8 1210.1 1530.8 1210.4 1532.8 1210.7 1534.8 1211.1 1536.8 1211.4 1538.8 1211.7 1540.8 1212.0 1542.8 1212.3 1544.8 1212.6 1546.8 1212.9 1548.8 1213.2 1550.8 1213.5 1552.8 1213.8 1554.8 1214.1 1556.8 1214.4 1558.8 1214.6 1560.8 1214.9 1562.8 1215.2 1564.8 1215.5 1566.8 1215.8 1568.8 1216.1 1570.8 1216.4 1572.8 1216.7 1574.8 1217.0 1576.8 1217.3 1578.8 1217.6 1580.8 1217.9 1582.8 1218.2 1584.8 1218.4 1586.8 1218.7 1588.8 1219.0 1590.8 1219.3 1592.8 1219.6 1594.8 1219.9 1596.8 1220.2 1598.8 1220.4 1600.8 1220.7 1602.8 1221.0 1604.8 1221.3 1606.8 1221.6 1608.8 1221.9 1610.8 1222.1 1612.8 1222.4 1614.8 1222.7 1616.8 1223.0 1618.8 1223.2 1620.8 1223.5 1622.8 1223.8 1624.8 1224.1 1626.8 1224.3 1628.8 1224.6 1630.8 1224.9 1632.8 1225.1 1634.8 1225.4 1636.8 1225.7 1638.8 1225.9 1640.8 1226.2 1642.8 1226.5 1644.8 1226.7 1646.8 1227.0 1648.8 1227.2 1650.8 1227.5 1652.8 1227.8 1654.8 1228.0 1656.8 1228.3 1658.8 1228.5 1660.8 1228.8 1662.8 1229.0 1664.8 1229.3 1666.8 1229.5 1668.8 1229.8 1670.8 1230.0 1672.8 1230.3 1674.8 1230.5 1676.8 1230.8 1678.8 1231.0 1680.8 1231.3 1682.8 1231.5 1684.8 1231.8 1686.8 1232.0 1688.8 1232.2 1690.8 1232.5 1692.8 1232.7 1694.8 1232.9 1696.8 1233.2 1698.8 1233.4 1700.8 1233.6 1702.8 1233.9 1704.8 1234.1 1706.8 1234.3 1708.8 1234.6 1710.8 1234.8 1712.8 1235.0 1714.8 1235.2 1716.8 1235.4 1718.8 1235.7 1720.8 1235.9 1722.8 1236.1 1724.8 1236.3 1726.8 1236.5 1728.8 1236.7 1730.8 1237.0 1732.8 1237.2 1734.8 1237.4 1736.8 1237.6 1738.8 1237.8 1740.8 1238.0 1742.8 1238.2 1744.8 1238.4 1746.8 1238.6 1748.8 1238.8 1750.8 1239.0 1752.8 1239.2 1754.8 1239.4 1756.8 1239.6 1758.8 1239.8 1760.8 1240.0 1762.8 1240.2 1764.8 1240.3 1766.8 1240.5 1768.8 1240.7 1770.8 1240.9 1772.8 1241.1 1774.8 1241.3 1776.8 1241.5 1778.8 1241.6 1780.8 1241.8 1782.8 1242.0 1784.8 1242.2 1786.8 1242.4 1788.8 1242.5 1790.8 1242.7 1792.8 1242.9 1794.8 1243.0 1796.8 1243.2 1798.8 1243.4 1800.8 1243.6 1802.8 1243.7 1804.8 1243.9 1806.8 1244.1 1808.8 1244.2 1810.8 1244.4 1812.8 1244.5 1814.8 1244.7 1816.8 1244.9 1818.8 1245.0 1820.8 1245.2 1822.8 1245.3 1824.8 1245.5 1826.8 1245.6 1828.8 1245.8 1830.8 1245.9 1832.8 1246.1 1834.8 1246.2 1836.8 1246.4 1838.8 1246.5 1840.8 1246.7 1842.8 1246.8 1844.8 1247.0 1846.8 1247.1 1848.8 1247.3 1850.8 1247.4 1852.8 1247.6 1854.8 1247.7 1856.8 1247.8 1858.8 1248.0 1860.8 1248.1 1862.8 1248.2 1864.8 1248.4 1866.8 1248.5 1868.8 1248.6 1870.8 1248.8 1872.8 1248.9 1874.8 1249.0 1876.8 1249.2 1878.8 1249.3 1880.8 1249.4 1882.8 1249.6 1884.8 1249.7 1886.8 1249.8 1888.8 1249.9 1890.8 1250.1 1892.8 1250.2 1894.8 1250.3 1896.8 1250.4 1898.8 1250.5 1900.8 1250.7 1902.8 1250.8 1904.8 1250.9 1906.8 1251.0 1908.8 1251.1 1910.8 1251.2 1912.8 1251.4 1914.8 1251.5 1916.8 1251.6 1918.8 1251.7 1920.8 1251.8 1922.8 1251.9 1924.8 1252.0 1926.8 1252.1 1928.8 1252.3 1930.8 1252.4 1932.8 1252.5 1934.8 1252.6 1936.8 1252.7 1938.8 1252.8 1940.8 1252.9 1942.8 1253.0 1944.8 1253.1 1946.8 1253.2 1948.8 1253.3 1950.8 1253.4 1952.8 1253.5 1954.8 1253.6 1956.8 1253.7 1958.8 1253.8 1960.8 1253.9 1962.8 1254.0 1964.8 1254.1 1966.8 1254.2 1968.8 1254.3 1970.8 1254.4 1972.8 1254.5 1974.8 1254.5 1976.8 1254.6 1978.8 1254.7 1980.8 1254.8 1982.8 1254.9 1984.8 1255.0 1986.8 1255.1 1988.8 1255.2 1990.8 1255.3 1992.8 1255.4 1994.8 1255.4 1996.8 1255.5 1998.8 1255.6 2000.8 1255.7 2002.8 1255.8 2004.8 1255.9 2006.8 1255.9 2008.8 1256.0 2010.8 1256.1 2012.8 1256.2 2014.8 1256.3 2016.8 1256.4 2018.8 1256.4 2020.8 1256.5 2022.8 1256.6 2024.8 1256.7 2026.8 1256.8 2028.8 1256.8 2030.8 1256.9 2032.8 1257.0 2034.8 1257.1 2036.8 1257.1 2038.8 1257.2 2040.8 1257.3 2042.8 1257.4 2044.8 1257.4 2046.8 1257.5 2048.8 1257.6 2050.8 1257.7 2052.8 1257.7 2054.8 1257.8 2056.8 1257.9 2058.8 1258.0 2060.8 1258.0 2062.8 1258.1 2064.8 1258.2 2066.8 1258.2 2068.8 1258.3 2070.8 1258.4 2072.8 1258.4 2074.8 1258.5 2076.8 1258.6 2078.8 1258.7 2080.8 1258.7 2082.8 1258.8 2084.8 1258.9 2086.8 1258.9 2088.8 1259.0 2090.8 1259.1 2092.8 1259.1 2094.8 1259.2 2096.8 1259.3 2098.8 1259.3 2100.8 1259.4 2102.8 1259.4 2104.8 1259.5 2106.8 1259.6 2108.8 1259.6 2110.8 1259.7 2112.8 1259.8 2114.8 1259.8 2116.8 1259.9 2118.8 1260.0 2120.8 1260.0 2122.8 1260.1 2124.8 1260.1 2126.8 1260.2 2128.8 1260.3 2130.8 1260.3 2132.8 1260.4 2134.8 1260.5 2136.8 1260.5 2138.8 1260.6 2140.8 1260.6 2142.8 1260.7 2144.8 1260.8 2146.8 1260.8 2148.8 1260.9 2150.8 1261.0 2152.8 1261.0 2154.8 1261.1 2156.8 1261.1 2158.8 1261.2 2160.8 1261.3 2162.8 1261.3 2164.8 1261.4 2166.8 1261.4 2168.8 1261.5 2170.8 1261.6 2172.8 1261.6 2174.8 1261.7 2176.8 1261.7 2178.8 1261.8 2180.8 1261.9 2182.8 1261.9 2184.8 1262.0 2186.8 1262.0 2188.8 1262.1 2190.8 1262.2 2192.8 1262.2 2194.8 1262.3 2196.8 1262.3 2198.8 1262.4 2200.8 1262.5 2202.8 1262.5 2204.8 1262.6 2206.8 1262.6 2208.8 1262.7 2210.8 1262.8 2212.8 1262.8 2214.8 1262.9 2216.8 1262.9 2218.8 1263.0 2220.8 1263.1 2222.8 1263.1 2224.8 1263.2 2226.8 1263.2 2228.8 1263.3 2230.8 1263.4 2232.8 1263.4 2234.8 1263.5 2236.8 1263.6 2238.8 1263.6 2240.8 1263.7 2242.8 1263.7 2244.8 1263.8 2246.8 1263.9 2248.8 1263.9 2250.8 1264.0 2252.8 1264.1 2254.8 1264.1 2256.8 1264.2 2258.8 1264.2 2260.8 1264.3 2262.8 1264.4 2264.8 1264.4 2266.8 1264.5 2268.8 1264.6 2270.8 1264.6 2272.8 1264.7 2274.8 1264.8 2276.8 1264.8 2278.8 1264.9 2280.8 1265.0 2282.8 1265.0 2284.8 1265.1 2286.8 1265.2 2288.8 1265.2 2290.8 1265.3 2292.8 1265.4 2294.8 1265.4 2296.8 1265.5 2298.8 1265.6 2300.8 1265.6 2302.8 1265.7 2304.8 1265.8 2306.8 1265.9 2308.8 1265.9 2310.8 1266.0 2312.8 1266.1 2314.8 1266.1 2316.8 1266.2 2318.8 1266.3 2320.8 1266.4 2322.8 1266.4 2324.8 1266.5 2326.8 1266.6 2328.8 1266.7 2330.8 1266.7 2332.8 1266.8 2334.8 1266.9 2336.8 1267.0 2338.8 1267.0 2340.8 1267.1 2342.8 1267.2 2344.8 1267.3 2346.8 1267.3 2348.8 1267.4 2350.8 1267.5 2352.8 1267.6 2354.8 1267.7 2356.8 1267.7 2358.8 1267.8 2360.8 1267.9 2361.0 1267.9" stroke="#ff3cff"/>
<path d="M165.6 236.0L166.0 238.0 166.3 240.1 166.7 242.1 167.0 244.1 167.4 246.2 167.7 248.2 168.1 250.3 168.4 252.3 168.8 254.4 169.1 256.4 169.5 258.4 169.9 260.5 170.3 262.5 170.6 264.5 171.0 266.5 171.4 268.5 171.9 270.5 172.3 272.4 172.7 274.4 173.2 276.3 173.7 278.2 174.2 280.1 174.7 282.0 175.2 283.9 175.7 285.7 176.3 287.6 176.9 289.4 177.5 291.2 178.1 292.9 178.8 294.7 179.5 296.4 180.2 298.1 180.9 299.7 181.7 301.4 182.4 303.0 183.3 304.6 184.1 306.1 184.9 307.7 185.8 309.2 186.7 310.7 187.6 312.2 188.5 313.7 189.4 315.2 190.3 316.6 191.2 318.1 192.1 319.6 193.1 321.1 194.0 322.6 194.9 324.1 195.8 325.6 196.7 327.1 197.6 328.5 198.5 330.0 199.4 331.5 200.4 332.9 201.3 334.4 202.3 335.8 203.2 337.3 204.2 338.7 205.2 340.1 206.1 341.6 207.1 343.0 208.1 344.4 209.0 345.8 210.0 347.2 211.0 348.7 212.0 350.1 213.0 351.5 213.9 352.9 214.9 354.3 215.9 355.8 216.8 357.2 217.8 358.6 218.7 360.1 219.7 361.5 220.6 363.0 221.5 364.5 222.4 366.0 223.3 367.5 224.2 369.0 225.1 370.5 226.0 372.0 226.8 373.6 227.7 375.1 228.5 376.7 229.3 378.3 230.1 379.9 230.9 381.5 231.7 383.1 232.5 384.7 233.3 386.3 234.1 387.9 234.9 389.4 235.7 391.0 236.5 392.6 237.4 394.2 238.2 395.7 239.1 397.2 240.0 398.7 240.9 400.2 241.8 401.7 242.8 403.1 243.8 404.5 244.8 405.9 245.9 407.2 247.0 408.5 248.1 409.8 249.3 411.0 250.5 412.2 251.7 413.3 253.0 414.5 254.2 415.6 255.5 416.7 256.8 417.9 258.1 419.0 259.4 420.1 260.6 421.2 261.9 422.3 263.2 423.4 264.4 424.6 265.7 425.7 266.9 426.9 268.1 428.1 269.2 429.3 270.4 430.6 271.5 431.8 272.7 433.1 273.8 434.4 274.8 435.7 275.9 437.0 277.0 438.4 278.0 439.7 279.1 441.1 280.1 442.4 281.1 443.8 282.1 445.2 283.0 446.7 284.0 448.1 285.0 449.5 285.9 451.0 286.8 452.5 287.8 453.9 288.7 455.4 289.6 456.9 290.4 458.4 291.3 459.9 292.2 461.5 293.0 463.0 293.9 464.6 294.7 466.1 295.6 467.7 296.4 469.2 297.2 470.8 298.0 472.4 298.8 474.0 299.6 475.6 300.4 477.2 301.2 478.8 302.0 480.4 302.8 482.0 303.6 483.6 304.3 485.3 305.1 486.9 305.9 488.5 306.6 490.1 307.4 491.8 308.2 493.4 308.9 495.0 309.7 496.7 310.4 498.3 311.2 499.9 312.0 501.6 312.7 503.2 313.5 504.8 314.3 506.5 315.0 508.1 315.8 509.7 316.6 511.3 317.4 513.0 318.1 514.6 318.9 516.2 319.7 517.8 320.4 519.4 321.2 521.1 322.0 522.7 322.8 524.3 323.5 525.9 324.3 527.5 325.1 529.2 325.9 530.8 326.6 532.4 327.4 534.0 328.2 535.6 329.0 537.3 329.7 538.9 330.5 540.5 331.2 542.2 332.0 543.8 332.8 545.4 333.5 547.1 334.3 548.7 335.0 550.3 335.8 552.0 336.5 553.6 337.3 555.3 338.0 556.9 338.8 558.6 339.5 560.3 340.2 561.9 341.0 563.6 341.7 565.2 342.4 566.9 343.1 568.6 343.8 570.3 344.6 572.0 345.3 573.6 346.0 575.3 346.7 577.0 347.4 578.7 348.0 580.4 348.7 582.2 349.4 583.9 350.1 585.6 350.8 587.3 351.4 589.1 352.1 590.8 352.7 592.5 353.4 594.3 354.0 596.0 354.6 597.8 355.3 599.6 355.9 601.3 356.5 603.1 357.1 604.9 357.7 606.7 358.3 608.5 358.9 610.3 359.5 612.1 360.1 613.9 362.7 614.0 362.7 696.0 362.8 707.2 364.8 712.0 366.8 716.8 368.8 721.5 370.8 726.1 372.8 730.6 374.8 735.1 376.8 739.6 378.8 743.9 380.8 748.2 382.8 752.4 384.8 756.6 386.8 760.7 388.8 764.7 390.8 768.7 392.8 772.6 394.8 776.5 396.8 780.3 398.8 784.0 400.8 787.6 402.8 791.2 404.8 794.8 406.8 798.2 408.8 801.7 410.8 805.0 412.8 808.3 414.8 811.5 416.8 814.7 418.8 817.8 420.8 820.9 422.8 823.8 424.8 826.8 426.8 829.6 428.8 832.5 430.8 835.2 432.8 837.9 434.8 840.5 436.8 843.1 438.8 845.6 440.8 848.1 442.8 850.5 444.8 852.9 446.8 855.1 448.8 857.4 450.8 859.6 452.8 861.7 454.8 863.7 456.8 865.8 458.8 867.7 460.8 869.6 462.8 871.5 464.8 873.3 466.8 875.0 468.8 876.7 470.8 878.3 472.8 879.9 474.8 881.4 476.8 882.9 478.8 884.3 480.8 885.6 482.8 886.9 484.8 888.2 486.8 889.4 488.8 890.6 490.8 891.7 492.8 892.7 494.8 893.7 496.8 894.7 498.8 895.6 500.8 896.4 502.8 897.2 504.8 898.0 506.8 898.7 508.8 899.3 510.8 899.9 512.8 900.5 514.8 901.0 516.8 901.5 518.8 901.9 520.8 902.3 522.8 902.6 524.8 902.9 526.8 903.2 528.8 903.4 530.8 903.6 532.8 903.7 534.8 903.8 536.8 903.9 538.8 903.9 540.8 903.9 542.8 903.9 544.8 903.8 546.8 903.7 548.8 903.5 550.8 903.3 552.8 903.1 554.8 902.9 556.8 902.6 558.8 902.3 560.8 902.0 562.8 901.6 564.8 901.2 566.8 900.8 568.8 900.3 570.8 899.9 572.8 899.4 574.8 898.8 576.8 898.3 578.8 897.7 580.8 897.1 582.8 896.5 584.8 895.8 586.8 895.2 588.8 894.5 590.8 893.8 592.8 893.1 594.8 892.3 596.8 891.6 598.8 890.8 600.8 890.0 602.8 889.2 604.8 888.4 606.8 887.6 608.8 886.7 610.8 885.9 612.8 885.0 614.8 884.1 616.8 883.2 618.8 882.3 620.8 881.4 622.8 880.5 624.8 879.6 626.8 878.7 628.8 877.7 630.8 876.8 632.8 875.8 634.8 874.9 636.8 873.9 638.8 872.9 640.8 871.9 642.8 871.0 644.8 870.0 646.8 869.0 648.8 868.0 650.8 867.0 652.8 866.0 654.8 865.0 656.8 864.0 658.8 863.0 660.8 862.0 662.8 861.0 664.8 860.1 666.8 859.1 668.8 858.1 670.8 857.1 672.8 856.1 674.8 855.1 676.8 854.1 678.8 853.1 680.8 852.2 682.8 851.2 684.8 850.2 686.8 849.3 688.8 848.3 690.8 847.4 692.8 846.5 694.8 845.5 696.8 844.6 698.8 843.7 700.8 842.8 702.8 841.9 704.8 841.0 706.8 840.1 708.8 839.3 710.8 838.4 712.8 837.6 714.8 836.7 716.8 835.9 718.8 835.1 720.8 834.3 722.8 833.5 724.8 832.8 726.8 832.0 728.8 831.3 730.8 830.6 732.8 829.9 734.8 829.2 736.8 828.5 738.8 827.8 740.8 827.2 742.8 826.6 744.8 826.0 746.8 825.4 748.8 824.8 750.8 824.3 752.8 823.8 754.8 823.3 756.8 822.8 758.8 822.3 760.8 821.9 762.8 821.5 764.8 821.1 766.8 820.7 768.8 820.4 770.8 820.1 772.8 819.8 774.8 819.5 776.8 819.3 778.8 819.1 780.8 818.9 782.8 818.7 784.8 818.6 786.8 818.5 788.8 818.4 790.8 818.3 792.8 818.3 794.8 818.3 796.8 818.4 798.8 818.4 800.8 818.5 802.8 818.7 804.8 818.8 806.8 819.0 808.8 819.3 810.8 819.5 812.8 819.8 814.8 820.2 816.8 820.5 818.8 820.9 820.8 821.4 822.8 821.8 824.8 822.3 826.8 822.9 828.8 823.5 830.8 824.1 832.8 824.7 834.8 825.4 836.8 826.2 838.8 827.0 840.8 827.8 842.8 828.6 844.8 829.5 846.8 830.4 848.8 831.4 850.8 832.4 852.8 833.4 854.8 834.5 856.8 835.6 858.8 836.7 860.8 837.9 862.8 839.1 864.8 840.3 866.8 841.6 868.8 842.8 870.8 844.1 872.8 845.5 874.8 846.8 876.8 848.2 878.8 849.6 880.8 851.0 882.8 852.5 884.8 854.0 886.8 855.5 888.8 857.0 890.8 858.5 892.8 860.0 894.8 861.6 896.8 863.2 898.8 864.8 900.8 866.4 902.8 868.0 904.8 869.6 906.8 871.3 908.8 872.9 910.8 874.6 912.8 876.3 914.8 878.0 916.8 879.7 918.8 881.4 920.8 883.1 922.8 884.8 924.8 886.5 926.8 888.2 928.8 889.9 930.8 891.7 932.8 893.4 934.8 895.1 936.8 896.8 938.8 898.6 940.8 900.3 942.8 902.0 944.8 903.7 946.8 905.4 948.8 907.1 950.8 908.8 952.8 910.5 954.8 912.2 956.8 913.9 958.8 915.5 960.8 917.2 962.8 918.8 964.8 920.5 966.8 922.1 968.8 923.7 970.8 925.3 972.8 926.9 974.8 928.5 976.8 930.1 978.8 931.6 980.8 933.2 982.8 934.8 984.8 936.3 986.8 937.8 988.8 939.4 990.8 940.9 992.8 942.4 994.8 943.9 996.8 945.4 998.8 946.9 1000.8 948.4 1002.8 949.9 1004.8 951.4 1006.8 952.9 1008.8 954.4 1010.8 955.8 1012.8 957.3 1014.8 958.8 1016.8 960.3 1018.8 961.7 1020.8 963.2 1022.8 964.7 1024.8 966.1 1026.8 967.6 1028.8 969.0 1030.8 970.5 1032.8 972.0 1034.8 973.4 1036.8 974.9 1038.8 976.3 1040.8 977.8 1042.8 979.3 1044.8 980.7 1046.8 982.2 1048.8 983.6 1050.8 985.1 1052.8 986.5 1054.8 988.0 1056.8 989.4 1058.8 990.9 1060.8 992.3 1062.8 993.8 1064.8 995.2 1066.8 996.7 1068.8 998.1 1070.8 999.5 1072.8 1001.0 1074.8 1002.4 1076.8 1003.8 1078.8 1005.3 1080.8 1006.7 1082.8 1008.1 1084.8 1009.5 1086.8 1010.9 1088.8 1012.3 1090.8 1013.7 1092.8 1015.2 1094.8 1016.5 1096.8 1017.9 1098.8 1019.3 1100.8 1020.7 1102.8 1022.1 1104.8 1023.5 1106.8 1024.9 1108.8 1026.2 1110.8 1027.6 1112.8 1028.9 1114.8 1030.3 1116.8 1031.6 1118.8 1033.0 1120.8 1034.3 1122.8 1035.7 1124.8 1037.0 1126.8 1038.3 1128.8 1039.6 1130.8 1040.9 1132.8 1042.2 1134.8 1043.5 1136.8 1044.8 1138.8 1046.1 1140.8 1047.4 1142.8 1048.7 1144.8 1049.9 1146.8 1051.2 1148.8 1052.5 1150.8 1053.7 1152.8 1054.9 1154.8 1056.2 1156.8 1057.4 1158.8 1058.6 1160.8 1059.9 1162.8 1061.1 1164.8 1062.3 1166.8 1063.5 1168.8 1064.7 1170.8 1065.9 1172.8 1067.1 1174.8 1068.3 1176.8 1069.4 1178.8 1070.6 1180.8 1071.8 1182.8 1072.9 1184.8 1074.1 1186.8 1075.2 1188.8 1076.4 1190.8 1077.5 1192.8 1078.6 1194.8 1079.7 1196.8 1080.9 1198.8 1082.0 1200.8 1083.1 1202.8 1084.2 1204.8 1085.3 1206.8 1086.4 1208.8 1087.5 1210.8 1088.5 1212.8 1089.6 1214.8 1090.7 1216.8 1091.7 1218.8 1092.8 1220.8 1093.8 1222.8 1094.9 1224.8 1095.9 1226.8 1097.0 1228.8 1098.0 1230.8 1099.0 1232.8 1100.0 1234.8 1101.1 1236.8 1102.1 1238.8 1103.1 1240.8 1104.1 1242.8 1105.1 1244.8 1106.0 1246.8 1107.0 1248.8 1108.0 1250.8 1109.0 1252.8 1109.9 1254.8 1110.9 1256.8 1111.9 1258.8 1112.8 1260.8 1113.8 1262.8 1114.7 1264.8 1115.6 1266.8 1116.6 1268.8 1117.5 1270.8 1118.4 1272.8 1119.3 1274.8 1120.2 1276.8 1121.1 1278.8 1122.0 1280.8 1122.9 1282.8 1123.8 1284.8 1124.7 1286.8 1125.6 1288.8 1126.5 1290.8 1127.3 1292.8 1128.2 1294.8 1129.1 1296.8 1129.9 1298.8 1130.8 1300.8 1131.6 1302.8 1132.4 1304.8 1133.3 1306.8 1134.1 1308.8 1134.9 1310.8 1135.8 1312.8 1136.6 1314.8 1137.4 1316.8 1138.2 1318.8 1139.0 1320.8 1139.8 1322.8 1140.6 1324.8 1141.4 1326.8 1142.1 1328.8 1142.9 1330.8 1143.7 1332.8 1144.5 1334.8 1145.2 1336.8 1146.0 1338.8 1146.7 1340.8 1147.5 1342.8 1148.2 1344.8 1149.0 1346.8 1149.7 1348.8 1150.4 1350.8 1151.2 1352.8 1151.9 1354.8 1152.6 1356.8 1153.3 1358.8 1154.0 1360.8 1154.7 1362.8 1155.4 1364.8 1156.1 1366.8 1156.8 1368.8 1157.5 1370.8 1158.2 1372.8 1158.8 1374.8 1159.5 1376.8 1160.2 1378.8 1160.8 1380.8 1161.5 1382.8 1162.2 1384.8 1162.8 1386.8 1163.5 1388.8 1164.1 1390.8 1164.7 1392.8 1165.4 1394.8 1166.0 1396.8 1166.6 1398.8 1167.2 1400.8 1167.9 1402.8 1168.5 1404.8 1169.1 1406.8 1169.7 1408.8 1170.3 1410.8 1170.9 1412.8 1171.5 1414.8 1172.1 1416.8 1172.6 1418.8 1173.2 1420.8 1173.8 1422.8 1174.4 1424.8 1174.9 1426.8 1175.5 1428.8 1176.1 1430.8 1176.6 1432.8 1177.2 1434.8 1177.7 1436.8 1178.3 1438.8 1178.8 1440.8 1179.4 1442.8 1179.9 1444.8 1180.4 1446.8 1181.0 1448.8 1181.5 1450.8 1182.0 1452.8 1182.5 1454.8 1183.0 1456.8 1183.5 1458.8 1184.0 1460.8 1184.5 1462.8 1185.0 1464.8 1185.5 1466.8 1186.0 1468.8 1186.5 1470.8 1187.0 1472.8 1187.5 1474.8 1188.0 1476.8 1188.4 1478.8 1188.9 1480.8 1189.4 1482.8 1189.8 1484.8 1190.3 1486.8 1190.8 1488.8 1191.2 1490.8 1191.7 1492.8 1192.1 1494.8 1192.6 1496.8 1193.0 1498.8 1193.5 1500.8 1193.9 1502.8 1194.3 1504.8 1194.8 1506.8 1195.2 1508.8 1195.6 1510.8 1196.0 1512.8 1196.5 1514.8 1196.9 1516.8 1197.3 1518.8 1197.7 1520.8 1198.1 1522.8 1198.5 1524.8 1198.9 1526.8 1199.3 1528.8 1199.7 1530.8 1200.1 1532.8 1200.5 1534.8 1200.9 1536.8 1201.3 1538.8 1201.6 1540.8 1202.0 1542.8 1202.4 1544.8 1202.8 1546.8 1203.2 1548.8 1203.5 1550.8 1203.9 1552.8 1204.3 1554.8 1204.6 1556.8 1205.0 1558.8 1205.3 1560.8 1205.7 1562.8 1206.0 1564.8 1206.4 1566.8 1206.7 1568.8 1207.1 1570.8 1207.4 1572.8 1207.8 1574.8 1208.1 1576.8 1208.4 1578.8 1208.8 1580.8 1209.1 1582.8 1209.4 1584.8 1209.8 1586.8 1210.1 1588.8 1210.4 1590.8 1210.7 1592.8 1211.1 1594.8 1211.4 1596.8 1211.7 1598.8 1212.0 1600.8 1212.3 1602.8 1212.6 1604.8 1212.9 1606.8 1213.2 1608.8 1213.5 1610.8 1213.8 1612.8 1214.1 1614.8 1214.4 1616.8 1214.7 1618.8 1215.0 1620.8 1215.3 1622.8 1215.6 1624.8 1215.9 1626.8 1216.2 1628.8 1216.5 1630.8 1216.8 1632.8 1217.0 1634.8 1217.3 1636.8 1217.6 1638.8 1217.9 1640.8 1218.1 1642.8 1218.4 1644.8 1218.7 1646.8 1219.0 1648.8 1219.2 1650.8 1219.5 1652.8 1219.8 1654.8 1220.0 1656.8 1220.3 1658.8 1220.5 1660.8 1220.8 1662.8 1221.1 1664.8 1221.3 1666.8 1221.6 1668.8 1221.8 1670.8 1222.1 1672.8 1222.3 1674.8 1222.6 1676.8 1222.8 1678.8 1223.1 1680.8 1223.3 1682.8 1223.6 1684.8 1223.8 1686.8 1224.1 1688.8 1224.3 1690.8 1224.6 1692.8 1224.8 1694.8 1225.0 1696.8 1225.3 1698.8 1225.5 1700.8 1225.8 1702.8 1226.0 1704.8 1226.2 1706.8 1226.5 1708.8 1226.7 1710.8 1226.9 1712.8 1227.2 1714.8 1227.4 1716.8 1227.6 1718.8 1227.9 1720.8 1228.1 1722.8 1228.3 1724.8 1228.5 1726.8 1228.8 1728.8 1229.0 1730.8 1229.2 1732.8 1229.4 1734.8 1229.6 1736.8 1229.9 1738.8 1230.1 1740.8 1230.3 1742.8 1230.5 1744.8 1230.7 1746.8 1231.0 1748.8 1231.2 1750.8 1231.4 1752.8 1231.6 1754.8 1231.8 1756.8 1232.0 1758.8 1232.2 1760.8 1232.4 1762.8 1232.7 1764.8 1232.9 1766.8 1233.1 1768.8 1233.3 1770.8 1233.5 1772.8 1233.7 1774.8 1233.9 1776.8 1234.1 1778.8 1234.3 1780.8 1234.5 1782.8 1234.7 1784.8 1234.9 1786.8 1235.1 1788.8 1235.3 1790.8 1235.5 1792.8 1235.7 1794.8 1235.9 1796.8 1236.1 1798.8 1236.3 1800.8 1236.5 1802.8 1236.7 1804.8 1236.8 1806.8 1237.0 1808.8 1237.2 1810.8 1237.4 1812.8 1237.6 1814.8 1237.8 1816.8 1238.0 1818.8 1238.2 1820.8 1238.3 1822.8 1238.5 1824.8 1238.7 1826.8 1238.9 1828.8 1239.1 1830.8 1239.3 1832.8 1239.4 1834.8 1239.6 1836.8 1239.8 1838.8 1240.0 1840.8 1240.2 1842.8 1240.3 1844.8 1240.5 1846.8 1240.7 1848.8 1240.8 1850.8 1241.0 1852.8 1241.2 1854.8 1241.4 1856.8 1241.5 1858.8 1241.7 1860.8 1241.9 1862.8 1242.0 1864.8 1242.2 1866.8 1242.4 1868.8 1242.5 1870.8 1242.7 1872.8 1242.9 1874.8 1243.0 1876.8 1243.2 1878.8 1243.4 1880.8 1243.5 1882.8 1243.7 1884.8 1243.8 1886.8 1244.0 1888.8 1244.2 1890.8 1244.3 1892.8 1244.5 1894.8 1244.6 1896.8 1244.8 1898.8 1244.9 1900.8 1245.1 1902.8 1245.2 1904.8 1245.4 1906.8 1245.5 1908.8 1245.7 1910.8 1245.8 1912.8 1246.0 1914.8 1246.1 1916.8 1246.3 1918.8 1246.4 1920.8 1246.6 1922.8 1246.7 1924.8 1246.9 1926.8 1247.0 1928.8 1247.2 1930.8 1247.3 1932.8 1247.5 1934.8 1247.6 1936.8 1247.7 1938.8 1247.9 1940.8 1248.0 1942.8 1248.2 1944.8 1248.3 1946.8 1248.4 1948.8 1248.6 1950.8 1248.7 1952.8 1248.8 1954.8 1249.0 1956.8 1249.1 1958.8 1249.2 1960.8 1249.4 1962.8 1249.5 1964.8 1249.6 1966.8 1249.8 1968.8 1249.9 1970.8 1250.0 1972.8 1250.2 1974.8 1250.3 1976.8 1250.4 1978.8 1250.5 1980.8 1250.7 1982.8 1250.8 1984.8 1250.9 1986.8 1251.0 1988.8 1251.2 1990.8 1251.3 1992.8 1251.4 1994.8 1251.5 1996.8 1251.7 1998.8 1251.8 2000.8 1251.9 2002.8 1252.0 2004.8 1252.1 2006.8 1252.2 2008.8 1252.4 2010.8 1252.5 2012.8 1252.6 2014.8 1252.7 2016.8 1252.8 2018.8 1252.9 2020.8 1253.1 2022.8 1253.2 2024.8 1253.3 2026.8 1253.4 2028.8 1253.5 2030.8 1253.6 2032.8 1253.7 2034.8 1253.8 2036.8 1253.9 2038.8 1254.1 2040.8 1254.2 2042.8 1254.3 2044.8 1254.4 2046.8 1254.5 2048.8 1254.6 2050.8 1254.7 2052.8 1254.8 2054.8 1254.9 2056.8 1255.0 2058.8 1255.1 2060.8 1255.2 2062.8 1255.3 2064.8 1255.4 2066.8 1255.5 2068.8 1255.6 2070.8 1255.7 2072.8 1255.8 2074.8 1255.9 2076.8 1256.0 2078.8 1256.1 2080.8 1256.2 2082.8 1256.3 2084.8 1256.4 2086.8 1256.5 2088.8 1256.6 2090.8 1256.7 2092.8 1256.8 2094.8 1256.9 2096.8 1257.0 2098.8 1257.0 2100.8 1257.1 2102.8 1257.2 2104.8 1257.3 2106.8 1257.4 2108.8 1257.5 2110.8 1257.6 2112.8 1257.7 2114.8 1257.8 2116.8 1257.9 2118.8 1257.9 2120.8 1258.0 2122.8 1258.1 2124.8 1258.2 2126.8 1258.3 2128.8 1258.4 2130.8 1258.5 2132.8 1258.5 2134.8 1258.6 2136.8 1258.7 2138.8 1258.8 2140.8 1258.9 2142.8 1258.9 2144.8 1259.0 2146.8 1259.1 2148.8 1259.2 2150.8 1259.3 2152.8 1259.3 2154.8 1259.4 2156.8 1259.5 2158.8 1259.6 2160.8 1259.7 2162.8 1259.7 2164.8 1259.8 2166.8 1259.9 2168.8 1260.0 2170.8 1260.0 2172.8 1260.1 2174.8 1260.2 2176.8 1260.3 2178.8 1260.3 2180.8 1260.4 2182.8 1260.5 2184.8 1260.5 2186.8 1260.6 2188.8 1260.7 2190.8 1260.8 2192.8 1260.8 2194.8 1260.9 2196.8 1261.0 2198.8 1261.0 2200.8 1261.1 2202.8 1261.2 2204.8 1261.2 2206.8 1261.3 2208.8 1261.4 2210.8 1261.4 2212.8 1261.5 2214.8 1261.6 2216.8 1261.6 2218.8 1261.7 2220.8 1261.8 2222.8 1261.8 2224.8 1261.9 2226.8 1262.0 2228.8 1262.0 2230.8 1262.1 2232.8 1262.1 2234.8 1262.2 2236.8 1262.3 2238.8 1262.3 2240.8 1262.4 2242.8 1262.4 2244.8 1262.5 2246.8 1262.6 2248.8 1262.6 2250.8 1262.7 2252.8 1262.7 2254.8 1262.8 2256.8 1262.9 2258.8 1262.9 2260.8 1263.0 2262.8 1263.0 2264.8 1263.1 2266.8 1263.1 2268.8 1263.2 2270.8 1263.3 2272.8 1263.3 2274.8 1263.4 2276.8 1263.4 2278.8 1263.5 2280.8 1263.5 2282.8 1263.6 2284.8 1263.6 2286.8 1263.7 2288.8 1263.7 2290.8 1263.8 2292.8 1263.8 2294.8 1263.9 2296.8 1263.9 2298.8 1264.0 2300.8 1264.0 2302.8 1264.1 2304.8 1264.1 2306.8 1264.2 2308.8 1264.2 2310.8 1264.3 2312.8 1264.3 2314.8 1264.4 2316.8 1264.4 2318.8 1264.5 2320.8 1264.5 2322.8 1264.6 2324.8 1264.6 2326.8 1264.7 2328.8 1264.7 2330.8 1264.8 2332.8 1264.8 2334.8 1264.9 2336.8 1264.9 2338.8 1264.9 2340.8 1265.0 2342.8 1265.0 2344.8 1265.1 2346.8 1265.1 2348.8 1265.2 2350.8 1265.2 2352.8 1265.3 2354.8 1265.3 2356.8 1265.3 2358.8 1265.4 2360.8 1265.4 2361.0 1265.4" stroke="#ff9700"/>
<path d="M166.1 198.5L166.2 200.8 166.4 203.1 166.6 205.4 166.8 207.6 167.1 209.8 167.3 212.0 167.6 214.2 167.9 216.4 168.2 218.6 168.5 220.7 168.8 222.8 169.2 224.9 169.5 227.0 169.9 229.1 170.3 231.2 170.7 233.2 171.2 235.2 171.6 237.2 172.1 239.2 172.6 241.1 173.1 243.1 173.7 245.0 174.2 246.9 174.8 248.8 175.4 250.7 176.0 252.5 176.6 254.4 177.2 256.2 177.9 258.0 178.5 259.8 179.2 261.6 179.9 263.3 180.6 265.1 181.4 266.8 182.1 268.5 182.9 270.2 183.6 271.9 184.4 273.6 185.2 275.2 186.1 276.9 186.9 278.5 187.7 280.1 188.6 281.7 189.5 283.3 190.4 284.8 191.2 286.4 192.1 288.0 193.1 289.5 194.0 291.0 194.9 292.6 195.8 294.1 196.8 295.6 197.7 297.1 198.7 298.7 199.6 300.2 200.6 301.7 201.5 303.2 202.5 304.7 203.4 306.2 204.4 307.7 205.4 309.2 206.3 310.7 207.3 312.2 208.2 313.7 209.2 315.2 210.1 316.7 211.0 318.2 212.0 319.8 212.9 321.3 213.8 322.8 214.7 324.4 215.6 325.9 216.5 327.5 217.4 329.0 218.4 330.6 219.3 332.1 220.2 333.7 221.1 335.2 222.0 336.8 222.9 338.3 223.8 339.9 224.7 341.4 225.6 343.0 226.5 344.5 227.4 346.1 228.3 347.6 229.3 349.2 230.2 350.7 231.1 352.2 232.1 353.7 233.0 355.3 233.9 356.8 234.9 358.3 235.9 359.8 236.8 361.2 237.8 362.7 238.8 364.2 239.8 365.7 240.8 367.1 241.8 368.6 242.8 370.0 243.9 371.4 244.9 372.9 245.9 374.3 247.0 375.7 248.0 377.1 249.1 378.5 250.1 379.9 251.2 381.3 252.3 382.7 253.3 384.1 254.4 385.4 255.5 386.8 256.6 388.2 257.7 389.6 258.7 391.0 259.8 392.3 260.9 393.7 262.0 395.1 263.1 396.5 264.1 397.8 265.2 399.2 266.3 400.6 267.4 402.0 268.4 403.4 269.5 404.8 270.6 406.2 271.6 407.6 272.7 409.0 273.7 410.4 274.8 411.8 275.8 413.2 276.8 414.7 277.8 416.1 278.9 417.5 279.9 419.0 280.9 420.4 281.8 421.9 282.8 423.4 283.8 424.9 284.8 426.4 285.7 427.9 286.6 429.4 287.6 431.0 288.5 432.5 289.4 434.0 290.3 435.6 291.2 437.2 292.0 438.8 292.9 440.3 293.8 441.9 294.6 443.6 295.5 445.2 296.3 446.8 297.1 448.4 298.0 450.1 298.8 451.7 299.6 453.3 300.4 455.0 301.2 456.7 302.0 458.3 302.8 460.0 303.5 461.7 304.3 463.4 305.1 465.1 305.8 466.7 306.6 468.4 307.4 470.1 308.1 471.8 308.9 473.5 309.6 475.3 310.4 477.0 311.1 478.7 311.9 480.4 312.6 482.1 313.3 483.8 314.1 485.5 314.8 487.3 315.6 489.0 316.3 490.7 317.0 492.4 317.8 494.1 318.5 495.9 319.2 497.6 320.0 499.3 320.7 501.0 321.5 502.7 322.2 504.4 323.0 506.2 323.7 507.9 324.4 509.6 325.2 511.3 325.9 513.0 326.7 514.7 327.4 516.4 328.2 518.2 328.9 519.9 329.6 521.6 330.4 523.3 331.1 525.0 331.9 526.7 332.6 528.4 333.4 530.2 334.1 531.9 334.9 533.6 335.6 535.3 336.3 537.0 337.1 538.7 337.8 540.4 338.6 542.1 339.3 543.9 340.1 545.6 340.8 547.3 341.6 549.0 342.3 550.7 343.1 552.4 343.8 554.1 344.6 555.8 345.3 557.5 346.0 559.3 346.8 561.0 347.5 562.7 348.3 564.4 349.0 566.1 349.8 567.8 350.5 569.5 351.3 571.3 352.0 573.0 352.7 574.7 353.5 576.4 354.2 578.1 355.0 579.8 355.7 581.5 356.4 583.3 357.2 585.0 357.9 586.7 358.7 588.4 359.4 590.1 360.2 591.8 362.7 594.0 362.7 686.0 362.8 695.6 364.8 700.3 366.8 705.0 368.8 709.6 370.8 714.2 372.8 718.7 374.8 723.2 376.8 727.6 378.8 731.9 380.8 736.3 382.8 740.5 384.8 744.7 386.8 748.9 388.8 753.0 390.8 757.0 392.8 761.0 394.8 765.0 396.8 768.9 398.8 772.7 400.8 776.5 402.8 780.2 404.8 783.8 406.8 787.4 408.8 791.0 410.8 794.5 412.8 797.9 414.8 801.3 416.8 804.6 418.8 807.8 420.8 811.0 422.8 814.2 424.8 817.2 426.8 820.2 428.8 823.2 430.8 826.1 432.8 828.9 434.8 831.6 436.8 834.3 438.8 837.0 440.8 839.5 442.8 842.0 444.8 844.5 446.8 846.8 448.8 849.2 450.8 851.4 452.8 853.6 454.8 855.7 456.8 857.7 458.8 859.7 460.8 861.6 462.8 863.4 464.8 865.2 466.8 866.9 468.8 868.5 470.8 870.0 472.8 871.5 474.8 872.9 476.8 874.3 478.8 875.5 480.8 876.7 482.8 877.8 484.8 878.9 486.8 879.9 488.8 880.8 490.8 881.6 492.8 882.3 494.8 883.0 496.8 883.6 498.8 884.1 500.8 884.6 502.8 885.0 504.8 885.3 506.8 885.5 508.8 885.7 510.8 885.8 512.8 885.9 514.8 885.9 516.8 885.8 518.8 885.7 520.8 885.6 522.8 885.3 524.8 885.0 526.8 884.7 528.8 884.3 530.8 883.9 532.8 883.4 534.8 882.9 536.8 882.3 538.8 881.7 540.8 881.1 542.8 880.4 544.8 879.7 546.8 878.9 548.8 878.1 550.8 877.2 552.8 876.4 554.8 875.5 556.8 874.6 558.8 873.6 560.8 872.6 562.8 871.6 564.8 870.6 566.8 869.5 568.8 868.4 570.8 867.3 572.8 866.2 574.8 865.1 576.8 863.9 578.8 862.7 580.8 861.5 582.8 860.3 584.8 859.0 586.8 857.8 588.8 856.5 590.8 855.2 592.8 853.8 594.8 852.5 596.8 851.2 598.8 849.8 600.8 848.4 602.8 847.0 604.8 845.6 606.8 844.2 608.8 842.7 610.8 841.3 612.8 839.8 614.8 838.3 616.8 836.8 618.8 835.3 620.8 833.8 622.8 832.3 624.8 830.8 626.8 829.2 628.8 827.7 630.8 826.1 632.8 824.6 634.8 823.0 636.8 821.4 638.8 819.8 640.8 818.2 642.8 816.6 644.8 815.0 646.8 813.4 648.8 811.8 650.8 810.2 652.8 808.6 654.8 807.0 656.8 805.3 658.8 803.7 660.8 802.1 662.8 800.5 664.8 798.8 666.8 797.2 668.8 795.6 670.8 794.0 672.8 792.4 674.8 790.8 676.8 789.2 678.8 787.6 680.8 786.0 682.8 784.4 684.8 782.8 686.8 781.3 688.8 779.7 690.8 778.2 692.8 776.7 694.8 775.2 696.8 773.7 698.8 772.2 700.8 770.8 702.8 769.3 704.8 767.9 706.8 766.5 708.8 765.1 710.8 763.8 712.8 762.4 714.8 761.1 716.8 759.8 718.8 758.5 720.8 757.3 722.8 756.1 724.8 754.9 726.8 753.8 728.8 752.6 730.8 751.5 732.8 750.5 734.8 749.4 736.8 748.4 738.8 747.5 740.8 746.5 742.8 745.7 744.8 744.8 746.8 744.0 748.8 743.2 750.8 742.5 752.8 741.7 754.8 741.1 756.8 740.5 758.8 739.9 760.8 739.3 762.8 738.8 764.8 738.4 766.8 737.9 768.8 737.5 770.8 737.2 772.8 736.9 774.8 736.6 776.8 736.4 778.8 736.2 780.8 736.0 782.8 735.9 784.8 735.8 786.8 735.8 788.8 735.8 790.8 735.8 792.8 735.9 794.8 736.0 796.8 736.2 798.8 736.4 800.8 736.6 802.8 736.9 804.8 737.2 806.8 737.5 808.8 737.9 810.8 738.3 812.8 738.8 814.8 739.3 816.8 739.8 818.8 740.4 820.8 741.0 822.8 741.7 824.8 742.4 826.8 743.1 828.8 743.9 830.8 744.7 832.8 745.5 834.8 746.4 836.8 747.3 838.8 748.3 840.8 749.3 842.8 750.3 844.8 751.4 846.8 752.5 848.8 753.6 850.8 754.8 852.8 756.0 854.8 757.3 856.8 758.6 858.8 759.9 860.8 761.3 862.8 762.7 864.8 764.2 866.8 765.7 868.8 767.2 870.8 768.7 872.8 770.3 874.8 772.0 876.8 773.6 878.8 775.4 880.8 777.1 882.8 778.9 884.8 780.7 886.8 782.6 888.8 784.5 890.8 786.4 892.8 788.3 894.8 790.3 896.8 792.3 898.8 794.3 900.8 796.3 902.8 798.4 904.8 800.5 906.8 802.6 908.8 804.7 910.8 806.8 912.8 809.0 914.8 811.1 916.8 813.3 918.8 815.4 920.8 817.6 922.8 819.8 924.8 822.0 926.8 824.1 928.8 826.3 930.8 828.5 932.8 830.7 934.8 832.8 936.8 835.0 938.8 837.1 940.8 839.3 942.8 841.4 944.8 843.5 946.8 845.6 948.8 847.7 950.8 849.8 952.8 851.9 954.8 853.9 956.8 856.0 958.8 858.0 960.8 860.0 962.8 862.0 964.8 864.0 966.8 866.0 968.8 868.0 970.8 869.9 972.8 871.9 974.8 873.8 976.8 875.7 978.8 877.6 980.8 879.5 982.8 881.3 984.8 883.2 986.8 885.0 988.8 886.8 990.8 888.6 992.8 890.4 994.8 892.2 996.8 894.0 998.8 895.7 1000.8 897.5 1002.8 899.2 1004.8 901.0 1006.8 902.7 1008.8 904.4 1010.8 906.1 1012.8 907.8 1014.8 909.5 1016.8 911.1 1018.8 912.8 1020.8 914.5 1022.8 916.1 1024.8 917.8 1026.8 919.4 1028.8 921.1 1030.8 922.7 1032.8 924.3 1034.8 926.0 1036.8 927.6 1038.8 929.2 1040.8 930.8 1042.8 932.4 1044.8 934.1 1046.8 935.7 1048.8 937.3 1050.8 938.9 1052.8 940.5 1054.8 942.2 1056.8 943.8 1058.8 945.4 1060.8 947.0 1062.8 948.6 1064.8 950.3 1066.8 951.9 1068.8 953.5 1070.8 955.2 1072.8 956.8 1074.8 958.4 1076.8 960.1 1078.8 961.7 1080.8 963.3 1082.8 965.0 1084.8 966.6 1086.8 968.3 1088.8 969.9 1090.8 971.5 1092.8 973.2 1094.8 974.8 1096.8 976.5 1098.8 978.1 1100.8 979.7 1102.8 981.4 1104.8 983.0 1106.8 984.7 1108.8 986.3 1110.8 987.9 1112.8 989.5 1114.8 991.2 1116.8 992.8 1118.8 994.4 1120.8 996.0 1122.8 997.7 1124.8 999.3 1126.8 1000.9 1128.8 1002.5 1130.8 1004.1 1132.8 1005.7 1134.8 1007.3 1136.8 1008.9 1138.8 1010.5 1140.8 1012.1 1142.8 1013.6 1144.8 1015.2 1146.8 1016.8 1148.8 1018.4 1150.8 1019.9 1152.8 1021.5 1154.8 1023.0 1156.8 1024.6 1158.8 1026.1 1160.8 1027.7 1162.8 1029.2 1164.8 1030.7 1166.8 1032.2 1168.8 1033.7 1170.8 1035.2 1172.8 1036.7 1174.8 1038.2 1176.8 1039.7 1178.8 1041.2 1180.8 1042.6 1182.8 1044.1 1184.8 1045.6 1186.8 1047.0 1188.8 1048.5 1190.8 1049.9 1192.8 1051.3 1194.8 1052.7 1196.8 1054.1 1198.8 1055.5 1200.8 1056.9 1202.8 1058.3 1204.8 1059.7 1206.8 1061.1 1208.8 1062.5 1210.8 1063.8 1212.8 1065.2 1214.8 1066.5 1216.8 1067.9 1218.8 1069.2 1220.8 1070.5 1222.8 1071.9 1224.8 1073.2 1226.8 1074.5 1228.8 1075.8 1230.8 1077.1 1232.8 1078.3 1234.8 1079.6 1236.8 1080.9 1238.8 1082.2 1240.8 1083.4 1242.8 1084.7 1244.8 1085.9 1246.8 1087.1 1248.8 1088.4 1250.8 1089.6 1252.8 1090.8 1254.8 1092.0 1256.8 1093.2 1258.8 1094.4 1260.8 1095.6 1262.8 1096.8 1264.8 1097.9 1266.8 1099.1 1268.8 1100.2 1270.8 1101.4 1272.8 1102.5 1274.8 1103.7 1276.8 1104.8 1278.8 1105.9 1280.8 1107.0 1282.8 1108.1 1284.8 1109.2 1286.8 1110.3 1288.8 1111.4 1290.8 1112.5 1292.8 1113.6 1294.8 1114.6 1296.8 1115.7 1298.8 1116.7 1300.8 1117.8 1302.8 1118.8 1304.8 1119.8 1306.8 1120.8 1308.8 1121.8 1310.8 1122.8 1312.8 1123.8 1314.8 1124.8 1316.8 1125.8 1318.8 1126.8 1320.8 1127.8 1322.8 1128.7 1324.8 1129.7 1326.8 1130.6 1328.8 1131.6 1330.8 1132.5 1332.8 1133.4 1334.8 1134.3 1336.8 1135.2 1338.8 1136.1 1340.8 1137.0 1342.8 1137.9 1344.8 1138.8 1346.8 1139.7 1348.8 1140.5 1350.8 1141.4 1352.8 1142.2 1354.8 1143.1 1356.8 1143.9 1358.8 1144.7 1360.8 1145.6 1362.8 1146.4 1364.8 1147.2 1366.8 1148.0 1368.8 1148.8 1370.8 1149.6 1372.8 1150.3 1374.8 1151.1 1376.8 1151.9 1378.8 1152.6 1380.8 1153.4 1382.8 1154.1 1384.8 1154.8 1386.8 1155.6 1388.8 1156.3 1390.8 1157.0 1392.8 1157.7 1394.8 1158.4 1396.8 1159.1 1398.8 1159.7 1400.8 1160.4 1402.8 1161.1 1404.8 1161.7 1406.8 1162.4 1408.8 1163.0 1410.8 1163.7 1412.8 1164.3 1414.8 1164.9 1416.8 1165.5 1418.8 1166.1 1420.8 1166.7 1422.8 1167.3 1424.8 1167.9 1426.8 1168.5 1428.8 1169.1 1430.8 1169.6 1432.8 1170.2 1434.8 1170.8 1436.8 1171.3 1438.8 1171.8 1440.8 1172.4 1442.8 1172.9 1444.8 1173.4 1446.8 1174.0 1448.8 1174.5 1450.8 1175.0 1452.8 1175.5 1454.8 1176.0 1456.8 1176.5 1458.8 1177.0 1460.8 1177.5 1462.8 1177.9 1464.8 1178.4 1466.8 1178.9 1468.8 1179.3 1470.8 1179.8 1472.8 1180.3 1474.8 1180.7 1476.8 1181.2 1478.8 1181.6 1480.8 1182.0 1482.8 1182.5 1484.8 1182.9 1486.8 1183.3 1488.8 1183.8 1490.8 1184.2 1492.8 1184.6 1494.8 1185.0 1496.8 1185.4 1498.8 1185.8 1500.8 1186.2 1502.8 1186.6 1504.8 1187.0 1506.8 1187.4 1508.8 1187.8 1510.8 1188.2 1512.8 1188.6 1514.8 1189.0 1516.8 1189.4 1518.8 1189.8 1520.8 1190.2 1522.8 1190.5 1524.8 1190.9 1526.8 1191.3 1528.8 1191.7 1530.8 1192.0 1532.8 1192.4 1534.8 1192.8 1536.8 1193.1 1538.8 1193.5 1540.8 1193.9 1542.8 1194.2 1544.8 1194.6 1546.8 1195.0 1548.8 1195.3 1550.8 1195.7 1552.8 1196.0 1554.8 1196.4 1556.8 1196.8 1558.8 1197.1 1560.8 1197.5 1562.8 1197.8 1564.8 1198.2 1566.8 1198.6 1568.8 1198.9 1570.8 1199.3 1572.8 1199.6 1574.8 1200.0 1576.8 1200.4 1578.8 1200.7 1580.8 1201.1 1582.8 1201.4 1584.8 1201.8 1586.8 1202.2 1588.8 1202.5 1590.8 1202.9 1592.8 1203.2 1594.8 1203.6 1596.8 1204.0 1598.8 1204.3 1600.8 1204.7 1602.8 1205.1 1604.8 1205.4 1606.8 1205.8 1608.8 1206.1 1610.8 1206.5 1612.8 1206.9 1614.8 1207.2 1616.8 1207.6 1618.8 1208.0 1620.8 1208.3 1622.8 1208.7 1624.8 1209.0 1626.8 1209.4 1628.8 1209.8 1630.8 1210.1 1632.8 1210.5 1634.8 1210.8 1636.8 1211.2 1638.8 1211.5 1640.8 1211.9 1642.8 1212.2 1644.8 1212.6 1646.8 1212.9 1648.8 1213.3 1650.8 1213.6 1652.8 1214.0 1654.8 1214.3 1656.8 1214.7 1658.8 1215.0 1660.8 1215.4 1662.8 1215.7 1664.8 1216.1 1666.8 1216.4 1668.8 1216.7 1670.8 1217.1 1672.8 1217.4 1674.8 1217.8 1676.8 1218.1 1678.8 1218.4 1680.8 1218.8 1682.8 1219.1 1684.8 1219.4 1686.8 1219.7 1688.8 1220.1 1690.8 1220.4 1692.8 1220.7 1694.8 1221.0 1696.8 1221.4 1698.8 1221.7 1700.8 1222.0 1702.8 1222.3 1704.8 1222.6 1706.8 1222.9 1708.8 1223.2 1710.8 1223.5 1712.8 1223.8 1714.8 1224.1 1716.8 1224.4 1718.8 1224.7 1720.8 1225.0 1722.8 1225.3 1724.8 1225.6 1726.8 1225.9 1728.8 1226.2 1730.8 1226.5 1732.8 1226.7 1734.8 1227.0 1736.8 1227.3 1738.8 1227.6 1740.8 1227.8 1742.8 1228.1 1744.8 1228.4 1746.8 1228.6 1748.8 1228.9 1750.8 1229.2 1752.8 1229.4 1754.8 1229.7 1756.8 1229.9 1758.8 1230.2 1760.8 1230.4 1762.8 1230.7 1764.8 1230.9 1766.8 1231.2 1768.8 1231.4 1770.8 1231.7 1772.8 1231.9 1774.8 1232.2 1776.8 1232.4 1778.8 1232.6 1780.8 1232.9 1782.8 1233.1 1784.8 1233.3 1786.8 1233.5 1788.8 1233.8 1790.8 1234.0 1792.8 1234.2 1794.8 1234.4 1796.8 1234.6 1798.8 1234.9 1800.8 1235.1 1802.8 1235.3 1804.8 1235.5 1806.8 1235.7 1808.8 1235.9 1810.8 1236.1 1812.8 1236.3 1814.8 1236.5 1816.8 1236.7 1818.8 1236.9 1820.8 1237.1 1822.8 1237.3 1824.8 1237.5 1826.8 1237.7 1828.8 1237.9 1830.8 1238.1 1832.8 1238.2 1834.8 1238.4 1836.8 1238.6 1838.8 1238.8 1840.8 1239.0 1842.8 1239.2 1844.8 1239.3 1846.8 1239.5 1848.8 1239.7 1850.8 1239.9 1852.8 1240.0 1854.8 1240.2 1856.8 1240.4 1858.8 1240.5 1860.8 1240.7 1862.8 1240.9 1864.8 1241.0 1866.8 1241.2 1868.8 1241.3 1870.8 1241.5 1872.8 1241.6 1874.8 1241.8 1876.8 1242.0 1878.8 1242.1 1880.8 1242.3 1882.8 1242.4 1884.8 1242.6 1886.8 1242.7 1888.8 1242.8 1890.8 1243.0 1892.8 1243.1 1894.8 1243.3 1896.8 1243.4 1898.8 1243.5 1900.8 1243.7 1902.8 1243.8 1904.8 1244.0 1906.8 1244.1 1908.8 1244.2 1910.8 1244.4 1912.8 1244.5 1914.8 1244.6 1916.8 1244.7 1918.8 1244.9 1920.8 1245.0 1922.8 1245.1 1924.8 1245.2 1926.8 1245.4 1928.8 1245.5 1930.8 1245.6 1932.8 1245.7 1934.8 1245.8 1936.8 1246.0 1938.8 1246.1 1940.8 1246.2 1942.8 1246.3 1944.8 1246.4 1946.8 1246.5 1948.8 1246.6 1950.8 1246.7 1952.8 1246.9 1954.8 1247.0 1956.8 1247.1 1958.8 1247.2 1960.8 1247.3 1962.8 1247.4 1964.8 1247.5 1966.8 1247.6 1968.8 1247.7 1970.8 1247.8 1972.8 1247.9 1974.8 1248.0 1976.8 1248.1 1978.8 1248.2 1980.8 1248.3 1982.8 1248.4 1984.8 1248.5 1986.8 1248.6 1988.8 1248.7 1990.8 1248.7 1992.8 1248.8 1994.8 1248.9 1996.8 1249.0 1998.8 1249.1 2000.8 1249.2 2002.8 1249.3 2004.8 1249.4 2006.8 1249.5 2008.8 1249.5 2010.8 1249.6 2012.8 1249.7 2014.8 1249.8 2016.8 1249.9 2018.8 1250.0 2020.8 1250.1 2022.8 1250.1 2024.8 1250.2 2026.8 1250.3 2028.8 1250.4 2030.8 1250.5 2032.8 1250.5 2034.8 1250.6 2036.8 1250.7 2038.8 1250.8 2040.8 1250.8 2042.8 1250.9 2044.8 1251.0 2046.8 1251.1 2048.8 1251.1 2050.8 1251.2 2052.8 1251.3 2054.8 1251.4 2056.8 1251.4 2058.8 1251.5 2060.8 1251.6 2062.8 1251.7 2064.8 1251.7 2066.8 1251.8 2068.8 1251.9 2070.8 1251.9 2072.8 1252.0 2074.8 1252.1 2076.8 1252.2 2078.8 1252.2 2080.8 1252.3 2082.8 1252.4 2084.8 1252.4 2086.8 1252.5 2088.8 1252.6 2090.8 1252.6 2092.8 1252.7 2094.8 1252.8 2096.8 1252.8 2098.8 1252.9 2100.8 1253.0 2102.8 1253.0 2104.8 1253.1 2106.8 1253.2 2108.8 1253.2 2110.8 1253.3 2112.8 1253.4 2114.8 1253.4 2116.8 1253.5 2118.8 1253.6 2120.8 1253.6 2122.8 1253.7 2124.8 1253.8 2126.8 1253.8 2128.8 1253.9 2130.8 1254.0 2132.8 1254.0 2134.8 1254.1 2136.8 1254.2 2138.8 1254.2 2140.8 1254.3 2142.8 1254.4 2144.8 1254.4 2146.8 1254.5 2148.8 1254.6 2150.8 1254.7 2152.8 1254.7 2154.8 1254.8 2156.8 1254.9 2158.8 1254.9 2160.8 1255.0 2162.8 1255.1 2164.8 1255.1 2166.8 1255.2 2168.8 1255.3 2170.8 1255.3 2172.8 1255.4 2174.8 1255.5 2176.8 1255.5 2178.8 1255.6 2180.8 1255.7 2182.8 1255.8 2184.8 1255.8 2186.8 1255.9 2188.8 1256.0 2190.8 1256.0 2192.8 1256.1 2194.8 1256.2 2196.8 1256.3 2198.8 1256.3 2200.8 1256.4 2202.8 1256.5 2204.8 1256.5 2206.8 1256.6 2208.8 1256.7 2210.8 1256.8 2212.8 1256.9 2214.8 1256.9 2216.8 1257.0 2218.8 1257.1 2220.8 1257.2 2222.8 1257.2 2224.8 1257.3 2226.8 1257.4 2228.8 1257.5 2230.8 1257.6 2232.8 1257.6 2234.8 1257.7 2236.8 1257.8 2238.8 1257.9 2240.8 1258.0 2242.8 1258.1 2244.8 1258.1 2246.8 1258.2 2248.8 1258.3 2250.8 1258.4 2252.8 1258.5 2254.8 1258.6 2256.8 1258.7 2258.8 1258.8 2260.8 1258.9 2262.8 1258.9 2264.8 1259.0 2266.8 1259.1 2268.8 1259.2 2270.8 1259.3 2272.8 1259.4 2274.8 1259.5 2276.8 1259.6 2278.8 1259.7 2280.8 1259.8 2282.8 1259.9 2284.8 1260.0 2286.8 1260.1 2288.8 1260.2 2290.8 1260.3 2292.8 1260.4 2294.8 1260.5 2296.8 1260.6 2298.8 1260.7 2300.8 1260.8 2302.8 1260.9 2304.8 1261.1 2306.8 1261.2 2308.8 1261.3 2310.8 1261.4 2312.8 1261.5 2314.8 1261.6 2316.8 1261.7 2318.8 1261.8 2320.8 1262.0 2322.8 1262.1 2324.8 1262.2 2326.8 1262.3 2328.8 1262.4 2330.8 1262.6 2332.8 1262.7 2334.8 1262.8 2336.8 1262.9 2338.8 1263.1 2340.8 1263.2 2342.8 1263.3 2344.8 1263.5 2346.8 1263.6 2348.8 1263.7 2350.8 1263.9 2352.8 1264.0 2354.8 1264.1 2356.8 1264.3 2358.8 1264.4 2360.8 1264.5 2361.0 1264.6" stroke="#ff1a00"/>
<path d="M165.8 151.8L165.9 154.3 166.0 156.8 166.2 159.3 166.3 161.8 166.5 164.2 166.7 166.7 166.8 169.1 167.0 171.5 167.3 173.9 167.5 176.3 167.7 178.7 168.0 181.1 168.3 183.4 168.6 185.7 168.9 188.0 169.3 190.3 169.6 192.6 170.0 194.8 170.4 197.0 170.8 199.2 171.3 201.4 171.8 203.5 172.3 205.7 172.8 207.7 173.3 209.8 173.9 211.9 174.5 213.9 175.1 215.9 175.8 217.8 176.5 219.8 177.2 221.7 177.9 223.6 178.7 225.4 179.5 227.3 180.3 229.1 181.1 230.9 182.0 232.6 182.8 234.4 183.7 236.1 184.6 237.8 185.6 239.5 186.5 241.2 187.5 242.9 188.4 244.5 189.4 246.2 190.4 247.8 191.4 249.4 192.4 251.0 193.5 252.6 194.5 254.2 195.6 255.8 196.6 257.3 197.7 258.9 198.7 260.5 199.8 262.0 200.9 263.6 202.0 265.1 203.0 266.6 204.1 268.2 205.2 269.7 206.3 271.3 207.4 272.8 208.5 274.3 209.5 275.9 210.6 277.4 211.7 279.0 212.7 280.5 213.8 282.1 214.8 283.7 215.9 285.3 216.9 286.8 218.0 288.4 219.0 290.0 220.0 291.7 221.0 293.3 222.0 294.9 222.9 296.6 223.9 298.2 224.8 299.9 225.8 301.6 226.7 303.3 227.7 305.0 228.6 306.7 229.5 308.4 230.4 310.1 231.3 311.8 232.3 313.5 233.2 315.2 234.1 316.9 235.0 318.6 235.9 320.3 236.8 322.1 237.7 323.8 238.6 325.5 239.5 327.2 240.4 328.9 241.3 330.6 242.2 332.3 243.2 334.0 244.1 335.7 245.0 337.4 246.0 339.1 246.9 340.8 247.9 342.4 248.8 344.1 249.8 345.7 250.8 347.4 251.8 349.0 252.8 350.6 253.8 352.2 254.9 353.8 255.9 355.4 256.9 357.0 258.0 358.6 259.0 360.1 260.1 361.7 261.2 363.2 262.2 364.8 263.3 366.3 264.4 367.9 265.4 369.4 266.5 371.0 267.6 372.5 268.7 374.1 269.8 375.6 270.8 377.1 271.9 378.7 273.0 380.2 274.1 381.8 275.2 383.3 276.2 384.9 277.3 386.4 278.3 388.0 279.4 389.6 280.4 391.2 281.5 392.7 282.5 394.3 283.5 395.9 284.6 397.5 285.6 399.1 286.6 400.8 287.5 402.4 288.5 404.1 289.5 405.7 290.4 407.4 291.4 409.1 292.3 410.8 293.2 412.5 294.1 414.2 295.0 415.9 295.9 417.7 296.7 419.5 297.6 421.2 298.4 423.0 299.2 424.8 300.1 426.6 300.9 428.4 301.7 430.2 302.5 432.0 303.3 433.9 304.1 435.7 304.9 437.5 305.6 439.4 306.4 441.2 307.2 443.1 307.9 445.0 308.7 446.8 309.4 448.7 310.2 450.6 310.9 452.5 311.7 454.3 312.4 456.2 313.1 458.1 313.9 460.0 314.6 461.8 315.4 463.7 316.1 465.6 316.9 467.5 317.6 469.4 318.4 471.2 319.1 473.1 319.9 475.0 320.6 476.8 321.4 478.7 322.2 480.5 322.9 482.4 323.7 484.2 324.5 486.1 325.3 487.9 326.1 489.7 326.9 491.6 327.7 493.4 328.5 495.2 329.3 497.0 330.1 498.8 330.9 500.7 331.7 502.5 332.5 504.3 333.3 506.1 334.1 508.0 334.9 509.8 335.7 511.6 336.5 513.4 337.3 515.3 338.0 517.1 338.8 518.9 339.6 520.8 340.4 522.6 341.2 524.4 342.0 526.3 342.8 528.1 343.5 530.0 344.3 531.8 345.1 533.7 345.8 535.5 346.6 537.4 347.4 539.3 348.1 541.1 348.9 543.0 349.6 544.9 350.3 546.8 351.1 548.6 351.8 550.5 352.5 552.4 353.3 554.3 354.0 556.2 354.7 558.2 355.4 560.1 356.1 562.0 356.8 563.9 357.4 565.9 358.1 567.8 358.8 569.8 359.5 571.7 360.1 573.7 360.7 575.7 361.4 577.7 362.0 579.7 362.6 581.7 362.7 585.0 362.7 683.0 362.8 681.8 364.8 685.6 366.8 689.5 368.8 693.5 370.8 697.5 372.8 701.5 374.8 705.6 376.8 709.7 378.8 713.8 380.8 718.0 382.8 722.2 384.8 726.4 386.8 730.6 388.8 734.8 390.8 739.0 392.8 743.2 394.8 747.5 396.8 751.7 398.8 755.9 400.8 760.1 402.8 764.2 404.8 768.4 406.8 772.5 408.8 776.6 410.8 780.6 412.8 784.7 414.8 788.6 416.8 792.6 418.8 796.5 420.8 800.3 422.8 804.0 424.8 807.7 426.8 811.4 428.8 815.0 430.8 818.4 432.8 821.9 434.8 825.2 436.8 828.5 438.8 831.6 440.8 834.7 442.8 837.7 444.8 840.6 446.8 843.4 448.8 846.1 450.8 848.7 452.8 851.2 454.8 853.7 456.8 855.9 458.8 858.1 460.8 860.2 462.8 862.2 464.8 864.0 466.8 865.8 468.8 867.4 470.8 869.0 472.8 870.4 474.8 871.7 476.8 872.9 478.8 874.0 480.8 875.0 482.8 876.0 484.8 876.8 486.8 877.5 488.8 878.1 490.8 878.6 492.8 879.0 494.8 879.2 496.8 879.5 498.8 879.6 500.8 879.6 502.8 879.5 504.8 879.3 506.8 879.1 508.8 878.8 510.8 878.4 512.8 877.9 514.8 877.3 516.8 876.7 518.8 876.0 520.8 875.3 522.8 874.4 524.8 873.6 526.8 872.6 528.8 871.6 530.8 870.6 532.8 869.5 534.8 868.3 536.8 867.1 538.8 865.9 540.8 864.6 542.8 863.3 544.8 861.9 546.8 860.6 548.8 859.1 550.8 857.7 552.8 856.2 554.8 854.7 556.8 853.2 558.8 851.7 560.8 850.2 562.8 848.6 564.8 847.0 566.8 845.5 568.8 843.9 570.8 842.3 572.8 840.7 574.8 839.1 576.8 837.4 578.8 835.8 580.8 834.2 582.8 832.5 584.8 830.8 586.8 829.2 588.8 827.5 590.8 825.8 592.8 824.1 594.8 822.4 596.8 820.7 598.8 818.9 600.8 817.2 602.8 815.4 604.8 813.7 606.8 811.9 608.8 810.2 610.8 808.4 612.8 806.6 614.8 804.8 616.8 803.0 618.8 801.2 620.8 799.4 622.8 797.5 624.8 795.7 626.8 793.9 628.8 792.0 630.8 790.2 632.8 788.3 634.8 786.4 636.8 784.5 638.8 782.7 640.8 780.8 642.8 778.9 644.8 777.0 646.8 775.1 648.8 773.1 650.8 771.2 652.8 769.3 654.8 767.4 656.8 765.4 658.8 763.5 660.8 761.5 662.8 759.6 664.8 757.6 666.8 755.7 668.8 753.7 670.8 751.7 672.8 749.8 674.8 747.8 676.8 745.9 678.8 743.9 680.8 742.0 682.8 740.0 684.8 738.1 686.8 736.1 688.8 734.2 690.8 732.3 692.8 730.4 694.8 728.4 696.8 726.5 698.8 724.6 700.8 722.8 702.8 720.9 704.8 719.0 706.8 717.2 708.8 715.4 710.8 713.5 712.8 711.7 714.8 709.9 716.8 708.2 718.8 706.4 720.8 704.7 722.8 702.9 724.8 701.2 726.8 699.6 728.8 697.9 730.8 696.2 732.8 694.6 734.8 693.0 736.8 691.5 738.8 689.9 740.8 688.4 742.8 686.9 744.8 685.4 746.8 684.0 748.8 682.5 750.8 681.2 752.8 679.8 754.8 678.5 756.8 677.2 758.8 675.9 760.8 674.7 762.8 673.5 764.8 672.3 766.8 671.2 768.8 670.1 770.8 669.1 772.8 668.1 774.8 667.1 776.8 666.2 778.8 665.4 780.8 664.6 782.8 663.9 784.8 663.3 786.8 662.7 788.8 662.2 790.8 661.7 792.8 661.3 794.8 661.0 796.8 660.8 798.8 660.7 800.8 660.6 802.8 660.6 804.8 660.7 806.8 660.9 808.8 661.2 810.8 661.5 812.8 662.0 814.8 662.5 816.8 663.1 818.8 663.7 820.8 664.4 822.8 665.2 824.8 666.1 826.8 667.1 828.8 668.1 830.8 669.1 832.8 670.3 834.8 671.5 836.8 672.7 838.8 674.0 840.8 675.4 842.8 676.8 844.8 678.3 846.8 679.9 848.8 681.4 850.8 683.1 852.8 684.8 854.8 686.5 856.8 688.3 858.8 690.1 860.8 691.9 862.8 693.8 864.8 695.7 866.8 697.7 868.8 699.7 870.8 701.7 872.8 703.8 874.8 705.8 876.8 707.9 878.8 710.1 880.8 712.2 882.8 714.4 884.8 716.6 886.8 718.8 888.8 721.0 890.8 723.2 892.8 725.4 894.8 727.7 896.8 729.9 898.8 732.2 900.8 734.4 902.8 736.7 904.8 738.9 906.8 741.2 908.8 743.5 910.8 745.7 912.8 748.0 914.8 750.3 916.8 752.5 918.8 754.8 920.8 757.1 922.8 759.3 924.8 761.6 926.8 763.8 928.8 766.1 930.8 768.3 932.8 770.6 934.8 772.8 936.8 775.1 938.8 777.3 940.8 779.6 942.8 781.8 944.8 784.0 946.8 786.3 948.8 788.5 950.8 790.7 952.8 792.9 954.8 795.1 956.8 797.3 958.8 799.5 960.8 801.7 962.8 803.8 964.8 806.0 966.8 808.2 968.8 810.3 970.8 812.5 972.8 814.6 974.8 816.8 976.8 818.9 978.8 821.0 980.8 823.1 982.8 825.2 984.8 827.3 986.8 829.4 988.8 831.5 990.8 833.6 992.8 835.7 994.8 837.8 996.8 839.8 998.8 841.9 1000.8 843.9 1002.8 846.0 1004.8 848.0 1006.8 850.1 1008.8 852.1 1010.8 854.1 1012.8 856.2 1014.8 858.2 1016.8 860.2 1018.8 862.2 1020.8 864.2 1022.8 866.2 1024.8 868.2 1026.8 870.2 1028.8 872.2 1030.8 874.2 1032.8 876.1 1034.8 878.1 1036.8 880.1 1038.8 882.0 1040.8 884.0 1042.8 885.9 1044.8 887.9 1046.8 889.8 1048.8 891.8 1050.8 893.7 1052.8 895.6 1054.8 897.6 1056.8 899.5 1058.8 901.4 1060.8 903.3 1062.8 905.2 1064.8 907.2 1066.8 909.1 1068.8 911.0 1070.8 912.9 1072.8 914.8 1074.8 916.7 1076.8 918.6 1078.8 920.4 1080.8 922.3 1082.8 924.2 1084.8 926.1 1086.8 928.0 1088.8 929.8 1090.8 931.7 1092.8 933.6 1094.8 935.4 1096.8 937.3 1098.8 939.2 1100.8 941.0 1102.8 942.9 1104.8 944.7 1106.8 946.6 1108.8 948.4 1110.8 950.3 1112.8 952.1 1114.8 954.0 1116.8 955.8 1118.8 957.7 1120.8 959.5 1122.8 961.3 1124.8 963.2 1126.8 965.0 1128.8 966.8 1130.8 968.7 1132.8 970.5 1134.8 972.3 1136.8 974.1 1138.8 976.0 1140.8 977.8 1142.8 979.6 1144.8 981.4 1146.8 983.2 1148.8 985.0 1150.8 986.8 1152.8 988.6 1154.8 990.4 1156.8 992.2 1158.8 993.9 1160.8 995.7 1162.8 997.5 1164.8 999.2 1166.8 1001.0 1168.8 1002.8 1170.8 1004.5 1172.8 1006.2 1174.8 1008.0 1176.8 1009.7 1178.8 1011.4 1180.8 1013.1 1182.8 1014.8 1184.8 1016.5 1186.8 1018.2 1188.8 1019.9 1190.8 1021.6 1192.8 1023.3 1194.8 1024.9 1196.8 1026.6 1198.8 1028.2 1200.8 1029.9 1202.8 1031.5 1204.8 1033.1 1206.8 1034.7 1208.8 1036.3 1210.8 1037.9 1212.8 1039.5 1214.8 1041.1 1216.8 1042.7 1218.8 1044.2 1220.8 1045.8 1222.8 1047.3 1224.8 1048.8 1226.8 1050.3 1228.8 1051.8 1230.8 1053.3 1232.8 1054.8 1234.8 1056.3 1236.8 1057.8 1238.8 1059.2 1240.8 1060.6 1242.8 1062.1 1244.8 1063.5 1246.8 1064.9 1248.8 1066.3 1250.8 1067.7 1252.8 1069.0 1254.8 1070.4 1256.8 1071.7 1258.8 1073.1 1260.8 1074.4 1262.8 1075.7 1264.8 1077.0 1266.8 1078.3 1268.8 1079.6 1270.8 1080.9 1272.8 1082.2 1274.8 1083.4 1276.8 1084.7 1278.8 1085.9 1280.8 1087.1 1282.8 1088.4 1284.8 1089.6 1286.8 1090.8 1288.8 1092.0 1290.8 1093.1 1292.8 1094.3 1294.8 1095.5 1296.8 1096.6 1298.8 1097.8 1300.8 1098.9 1302.8 1100.0 1304.8 1101.2 1306.8 1102.3 1308.8 1103.4 1310.8 1104.5 1312.8 1105.5 1314.8 1106.6 1316.8 1107.7 1318.8 1108.7 1320.8 1109.8 1322.8 1110.8 1324.8 1111.9 1326.8 1112.9 1328.8 1113.9 1330.8 1114.9 1332.8 1115.9 1334.8 1116.9 1336.8 1117.9 1338.8 1118.9 1340.8 1119.9 1342.8 1120.8 1344.8 1121.8 1346.8 1122.7 1348.8 1123.7 1350.8 1124.6 1352.8 1125.6 1354.8 1126.5 1356.8 1127.4 1358.8 1128.3 1360.8 1129.2 1362.8 1130.1 1364.8 1131.0 1366.8 1131.9 1368.8 1132.8 1370.8 1133.6 1372.8 1134.5 1374.8 1135.3 1376.8 1136.2 1378.8 1137.0 1380.8 1137.9 1382.8 1138.7 1384.8 1139.5 1386.8 1140.4 1388.8 1141.2 1390.8 1142.0 1392.8 1142.8 1394.8 1143.6 1396.8 1144.4 1398.8 1145.2 1400.8 1145.9 1402.8 1146.7 1404.8 1147.5 1406.8 1148.2 1408.8 1149.0 1410.8 1149.7 1412.8 1150.5 1414.8 1151.2 1416.8 1152.0 1418.8 1152.7 1420.8 1153.4 1422.8 1154.1 1424.8 1154.8 1426.8 1155.5 1428.8 1156.2 1430.8 1156.9 1432.8 1157.6 1434.8 1158.3 1436.8 1159.0 1438.8 1159.7 1440.8 1160.3 1442.8 1161.0 1444.8 1161.6 1446.8 1162.3 1448.8 1162.9 1450.8 1163.6 1452.8 1164.2 1454.8 1164.9 1456.8 1165.5 1458.8 1166.1 1460.8 1166.7 1462.8 1167.3 1464.8 1167.9 1466.8 1168.5 1468.8 1169.1 1470.8 1169.7 1472.8 1170.3 1474.8 1170.9 1476.8 1171.5 1478.8 1172.1 1480.8 1172.6 1482.8 1173.2 1484.8 1173.8 1486.8 1174.3 1488.8 1174.9 1490.8 1175.4 1492.8 1176.0 1494.8 1176.5 1496.8 1177.0 1498.8 1177.6 1500.8 1178.1 1502.8 1178.6 1504.8 1179.1 1506.8 1179.6 1508.8 1180.1 1510.8 1180.6 1512.8 1181.1 1514.8 1181.6 1516.8 1182.1 1518.8 1182.6 1520.8 1183.1 1522.8 1183.6 1524.8 1184.1 1526.8 1184.5 1528.8 1185.0 1530.8 1185.5 1532.8 1185.9 1534.8 1186.4 1536.8 1186.8 1538.8 1187.3 1540.8 1187.7 1542.8 1188.2 1544.8 1188.6 1546.8 1189.1 1548.8 1189.5 1550.8 1189.9 1552.8 1190.4 1554.8 1190.8 1556.8 1191.2 1558.8 1191.6 1560.8 1192.0 1562.8 1192.4 1564.8 1192.8 1566.8 1193.2 1568.8 1193.6 1570.8 1194.0 1572.8 1194.4 1574.8 1194.8 1576.8 1195.2 1578.8 1195.6 1580.8 1196.0 1582.8 1196.4 1584.8 1196.7 1586.8 1197.1 1588.8 1197.5 1590.8 1197.8 1592.8 1198.2 1594.8 1198.6 1596.8 1198.9 1598.8 1199.3 1600.8 1199.6 1602.8 1200.0 1604.8 1200.3 1606.8 1200.7 1608.8 1201.0 1610.8 1201.4 1612.8 1201.7 1614.8 1202.0 1616.8 1202.4 1618.8 1202.7 1620.8 1203.0 1622.8 1203.4 1624.8 1203.7 1626.8 1204.0 1628.8 1204.3 1630.8 1204.7 1632.8 1205.0 1634.8 1205.3 1636.8 1205.6 1638.8 1205.9 1640.8 1206.2 1642.8 1206.5 1644.8 1206.8 1646.8 1207.1 1648.8 1207.4 1650.8 1207.7 1652.8 1208.0 1654.8 1208.3 1656.8 1208.6 1658.8 1208.9 1660.8 1209.2 1662.8 1209.5 1664.8 1209.8 1666.8 1210.1 1668.8 1210.3 1670.8 1210.6 1672.8 1210.9 1674.8 1211.2 1676.8 1211.5 1678.8 1211.7 1680.8 1212.0 1682.8 1212.3 1684.8 1212.6 1686.8 1212.8 1688.8 1213.1 1690.8 1213.4 1692.8 1213.6 1694.8 1213.9 1696.8 1214.2 1698.8 1214.4 1700.8 1214.7 1702.8 1215.0 1704.8 1215.2 1706.8 1215.5 1708.8 1215.8 1710.8 1216.0 1712.8 1216.3 1714.8 1216.5 1716.8 1216.8 1718.8 1217.0 1720.8 1217.3 1722.8 1217.5 1724.8 1217.8 1726.8 1218.1 1728.8 1218.3 1730.8 1218.6 1732.8 1218.8 1734.8 1219.0 1736.8 1219.3 1738.8 1219.5 1740.8 1219.8 1742.8 1220.0 1744.8 1220.3 1746.8 1220.5 1748.8 1220.8 1750.8 1221.0 1752.8 1221.2 1754.8 1221.5 1756.8 1221.7 1758.8 1222.0 1760.8 1222.2 1762.8 1222.4 1764.8 1222.7 1766.8 1222.9 1768.8 1223.1 1770.8 1223.4 1772.8 1223.6 1774.8 1223.8 1776.8 1224.0 1778.8 1224.3 1780.8 1224.5 1782.8 1224.7 1784.8 1224.9 1786.8 1225.2 1788.8 1225.4 1790.8 1225.6 1792.8 1225.8 1794.8 1226.1 1796.8 1226.3 1798.8 1226.5 1800.8 1226.7 1802.8 1226.9 1804.8 1227.1 1806.8 1227.4 1808.8 1227.6 1810.8 1227.8 1812.8 1228.0 1814.8 1228.2 1816.8 1228.4 1818.8 1228.6 1820.8 1228.8 1822.8 1229.1 1824.8 1229.3 1826.8 1229.5 1828.8 1229.7 1830.8 1229.9 1832.8 1230.1 1834.8 1230.3 1836.8 1230.5 1838.8 1230.7 1840.8 1230.9 1842.8 1231.1 1844.8 1231.3 1846.8 1231.5 1848.8 1231.7 1850.8 1231.9 1852.8 1232.1 1854.8 1232.3 1856.8 1232.5 1858.8 1232.7 1860.8 1232.9 1862.8 1233.1 1864.8 1233.2 1866.8 1233.4 1868.8 1233.6 1870.8 1233.8 1872.8 1234.0 1874.8 1234.2 1876.8 1234.4 1878.8 1234.6 1880.8 1234.8 1882.8 1234.9 1884.8 1235.1 1886.8 1235.3 1888.8 1235.5 1890.8 1235.7 1892.8 1235.8 1894.8 1236.0 1896.8 1236.2 1898.8 1236.4 1900.8 1236.6 1902.8 1236.7 1904.8 1236.9 1906.8 1237.1 1908.8 1237.3 1910.8 1237.4 1912.8 1237.6 1914.8 1237.8 1916.8 1238.0 1918.8 1238.1 1920.8 1238.3 1922.8 1238.5 1924.8 1238.6 1926.8 1238.8 1928.8 1239.0 1930.8 1239.1 1932.8 1239.3 1934.8 1239.5 1936.8 1239.6 1938.8 1239.8 1940.8 1240.0 1942.8 1240.1 1944.8 1240.3 1946.8 1240.4 1948.8 1240.6 1950.8 1240.8 1952.8 1240.9 1954.8 1241.1 1956.8 1241.2 1958.8 1241.4 1960.8 1241.6 1962.8 1241.7 1964.8 1241.9 1966.8 1242.0 1968.8 1242.2 1970.8 1242.3 1972.8 1242.5 1974.8 1242.6 1976.8 1242.8 1978.8 1242.9 1980.8 1243.1 1982.8 1243.2 1984.8 1243.4 1986.8 1243.5 1988.8 1243.7 1990.8 1243.8 1992.8 1244.0 1994.8 1244.1 1996.8 1244.3 1998.8 1244.4 2000.8 1244.5 2002.8 1244.7 2004.8 1244.8 2006.8 1245.0 2008.8 1245.1 2010.8 1245.2 2012.8 1245.4 2014.8 1245.5 2016.8 1245.7 2018.8 1245.8 2020.8 1245.9 2022.8 1246.1 2024.8 1246.2 2026.8 1246.3 2028.8 1246.5 2030.8 1246.6 2032.8 1246.7 2034.8 1246.9 2036.8 1247.0 2038.8 1247.1 2040.8 1247.3 2042.8 1247.4 2044.8 1247.5 2046.8 1247.7 2048.8 1247.8 2050.8 1247.9 2052.8 1248.0 2054.8 1248.2 2056.8 1248.3 2058.8 1248.4 2060.8 1248.5 2062.8 1248.7 2064.8 1248.8 2066.8 1248.9 2068.8 1249.0 2070.8 1249.2 2072.8 1249.3 2074.8 1249.4 2076.8 1249.5 2078.8 1249.6 2080.8 1249.8 2082.8 1249.9 2084.8 1250.0 2086.8 1250.1 2088.8 1250.2 2090.8 1250.4 2092.8 1250.5 2094.8 1250.6 2096.8 1250.7 2098.8 1250.8 2100.8 1250.9 2102.8 1251.0 2104.8 1251.2 2106.8 1251.3 2108.8 1251.4 2110.8 1251.5 2112.8 1251.6 2114.8 1251.7 2116.8 1251.8 2118.8 1251.9 2120.8 1252.0 2122.8 1252.1 2124.8 1252.3 2126.8 1252.4 2128.8 1252.5 2130.8 1252.6 2132.8 1252.7 2134.8 1252.8 2136.8 1252.9 2138.8 1253.0 2140.8 1253.1 2142.8 1253.2 2144.8 1253.3 2146.8 1253.4 2148.8 1253.5 2150.8 1253.6 2152.8 1253.7 2154.8 1253.8 2156.8 1253.9 2158.8 1254.0 2160.8 1254.1 2162.8 1254.2 2164.8 1254.3 2166.8 1254.4 2168.8 1254.5 2170.8 1254.6 2172.8 1254.7 2174.8 1254.8 2176.8 1254.9 2178.8 1255.0 2180.8 1255.1 2182.8 1255.2 2184.8 1255.3 2186.8 1255.4 2188.8 1255.5 2190.8 1255.6 2192.8 1255.7 2194.8 1255.7 2196.8 1255.8 2198.8 1255.9 2200.8 1256.0 2202.8 1256.1 2204.8 1256.2 2206.8 1256.3 2208.8 1256.4 2210.8 1256.5 2212.8 1256.6 2214.8 1256.6 2216.8 1256.7 2218.8 1256.8 2220.8 1256.9 2222.8 1257.0 2224.8 1257.1 2226.8 1257.2 2228.8 1257.2 2230.8 1257.3 2232.8 1257.4 2234.8 1257.5 2236.8 1257.6 2238.8 1257.7 2240.8 1257.8 2242.8 1257.8 2244.8 1257.9 2246.8 1258.0 2248.8 1258.1 2250.8 1258.2 2252.8 1258.2 2254.8 1258.3 2256.8 1258.4 2258.8 1258.5 2260.8 1258.6 2262.8 1258.6 2264.8 1258.7 2266.8 1258.8 2268.8 1258.9 2270.8 1259.0 2272.8 1259.0 2274.8 1259.1 2276.8 1259.2 2278.8 1259.3 2280.8 1259.3 2282.8 1259.4 2284.8 1259.5 2286.8 1259.6 2288.8 1259.6 2290.8 1259.7 2292.8 1259.8 2294.8 1259.9 2296.8 1259.9 2298.8 1260.0 2300.8 1260.1 2302.8 1260.2 2304.8 1260.2 2306.8 1260.3 2308.8 1260.4 2310.8 1260.4 2312.8 1260.5 2314.8 1260.6 2316.8 1260.7 2318.8 1260.7 2320.8 1260.8 2322.8 1260.9 2324.8 1260.9 2326.8 1261.0 2328.8 1261.1 2330.8 1261.2 2332.8 1261.2 2334.8 1261.3 2336.8 1261.4 2338.8 1261.4 2340.8 1261.5 2342.8 1261.6 2344.8 1261.6 2346.8 1261.7 2348.8 1261.8 2350.8 1261.8 2352.8 1261.9 2354.8 1262.0 2356.8 1262.0 2358.8 1262.1 2360.8 1262.2 2361.0 1262.2" stroke="#0020ff"/>
</g>
<rect x="163.4" y="36.2" width="2197.6" height="1238.7" fill="none" stroke="#000" stroke-width="5.3"/>
<g font-family="&quot;Liberation Sans&quot;, Arial, Helvetica, sans-serif" font-size="40" fill="#000">
<text x="363.7" y="1328" text-anchor="middle">300</text>
<text x="763.2" y="1328" text-anchor="middle">400</text>
<text x="1162.6" y="1328" text-anchor="middle">500</text>
<text x="1562.1" y="1328" text-anchor="middle">600</text>
<text x="1961.5" y="1328" text-anchor="middle">700</text>
<text x="2361.0" y="1328" text-anchor="middle">800</text>
<text x="141.5" y="1289.6" text-anchor="end">0</text>
<text x="141.5" y="1014.1" text-anchor="end">0.2</text>
<text x="141.5" y="738.6" text-anchor="end">0.4</text>
<text x="141.5" y="463.0" text-anchor="end">0.6</text>
<text x="141.5" y="187.5" text-anchor="end">0.8</text>
</g>
<text x="1262.5" y="1390.5" text-anchor="middle" font-family="&quot;Liberation Sans&quot;, Arial, Helvetica, sans-serif" font-size="50">Wavelength (nm)</text>
<text transform="translate(66.5 656.0) rotate(-90)" text-anchor="middle" font-family="&quot;Liberation Sans&quot;, Arial, Helvetica, sans-serif" font-size="50.4">Absorption Intensity (a.u.)</text>
<path d="M1780 148.7H2007" stroke="#000000" stroke-width="7.5" stroke-linecap="round"/>
<text x="2032" y="163.2" font-family="&quot;Liberation Sans&quot;, Arial, Helvetica, sans-serif" font-size="40">15 min</text>
<path d="M1780 204.1H2007" stroke="#00ff0a" stroke-width="7.5" stroke-linecap="round"/>
<text x="2032" y="218.6" font-family="&quot;Liberation Sans&quot;, Arial, Helvetica, sans-serif" font-size="40">25 min</text>
<path d="M1780 260.8H2007" stroke="#ff3cff" stroke-width="7.5" stroke-linecap="round"/>
<text x="2032" y="275.3" font-family="&quot;Liberation Sans&quot;, Arial, Helvetica, sans-serif" font-size="40">35 min</text>
<path d="M1780 317.4H2007" stroke="#ff9700" stroke-width="7.5" stroke-linecap="round"/>
<text x="2032" y="331.9" font-family="&quot;Liberation Sans&quot;, Arial, Helvetica, sans-serif" font-size="40">45 min</text>
<path d="M1780 374.0H2007" stroke="#ff1a00" stroke-width="7.5" stroke-linecap="round"/>
<text x="2032" y="388.5" font-family="&quot;Liberation Sans&quot;, Arial, Helvetica, sans-serif" font-size="40">55 min</text>
<path d="M1780 430.7H2007" stroke="#0020ff" stroke-width="7.5" stroke-linecap="round"/>
<text x="2032" y="445.2" font-family="&quot;Liberation Sans&quot;, Arial, Helvetica, sans-serif" font-size="40">65 min</text>
</svg>
</body></html>
